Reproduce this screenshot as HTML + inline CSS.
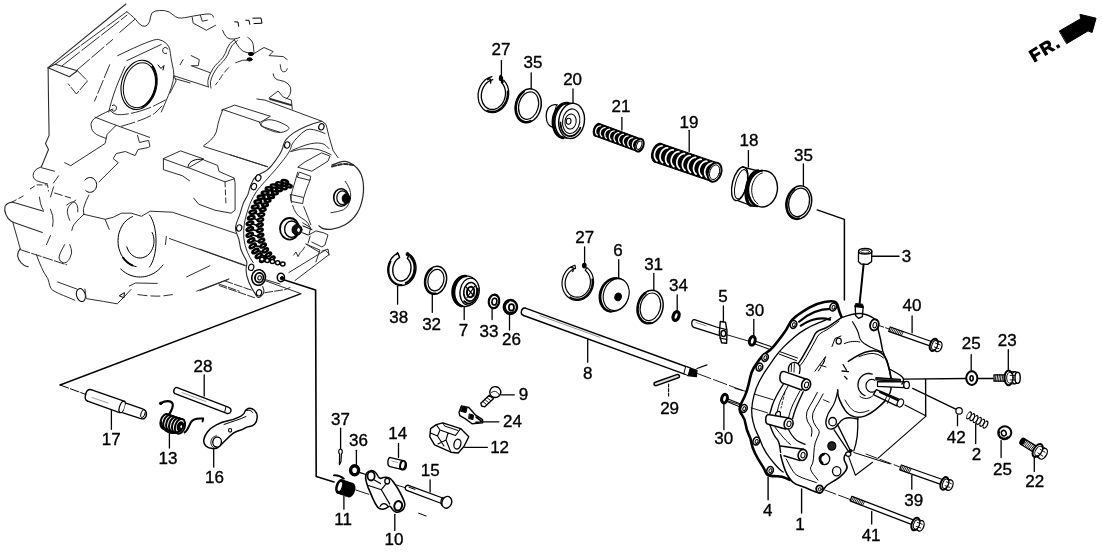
<!DOCTYPE html>
<html><head><meta charset="utf-8"><title>diagram</title>
<style>
html,body{margin:0;padding:0;background:#fff;}
body{width:1102px;height:554px;overflow:hidden;font-family:"Liberation Sans",sans-serif;}
svg{display:block;}
svg text{font-family:"Liberation Sans",sans-serif;fill:#000;stroke:#000;stroke-width:0.35px;} svg{filter:grayscale(1);}
</style></head><body>
<svg width="1102" height="554" viewBox="0 0 1102 554" fill="none" stroke-linecap="round" stroke-linejoin="round">
<rect x="0" y="0" width="1102" height="554" fill="#fff" stroke="none"/>
<text x="501" y="55.4" font-size="17" text-anchor="middle">27</text>
<text x="533" y="67.9" font-size="17" text-anchor="middle">35</text>
<text x="572.6" y="84.7" font-size="17" text-anchor="middle">20</text>
<text x="621" y="112.3" font-size="17" text-anchor="middle">21</text>
<text x="689" y="127.7" font-size="17" text-anchor="middle">19</text>
<text x="749" y="146.3" font-size="17" text-anchor="middle">18</text>
<text x="803.5" y="160.9" font-size="17" text-anchor="middle">35</text>
<text x="906.5" y="262.4" font-size="17" text-anchor="middle">3</text>
<text x="912" y="311.2" font-size="17" text-anchor="middle">40</text>
<text x="1007.2" y="346.4" font-size="17" text-anchor="middle">23</text>
<text x="971.2" y="349.4" font-size="17" text-anchor="middle">25</text>
<text x="584.7" y="243.0" font-size="17" text-anchor="middle">27</text>
<text x="618" y="256.0" font-size="17" text-anchor="middle">6</text>
<text x="653.6" y="269.7" font-size="17" text-anchor="middle">31</text>
<text x="678.5" y="291.3" font-size="17" text-anchor="middle">34</text>
<text x="723" y="301.6" font-size="17" text-anchor="middle">5</text>
<text x="754.8" y="316.0" font-size="17" text-anchor="middle">30</text>
<text x="398.8" y="322.5" font-size="17" text-anchor="middle">38</text>
<text x="431.6" y="330.1" font-size="17" text-anchor="middle">32</text>
<text x="463.4" y="336.1" font-size="17" text-anchor="middle">7</text>
<text x="489" y="336.7" font-size="17" text-anchor="middle">33</text>
<text x="511.4" y="344.7" font-size="17" text-anchor="middle">26</text>
<text x="587.7" y="379.4" font-size="17" text-anchor="middle">8</text>
<text x="669.6" y="413.9" font-size="17" text-anchor="middle">29</text>
<text x="723.7" y="444.4" font-size="17" text-anchor="middle">30</text>
<text x="203" y="371.5" font-size="17" text-anchor="middle">28</text>
<text x="111.2" y="444.7" font-size="17" text-anchor="middle">17</text>
<text x="168" y="464.0" font-size="17" text-anchor="middle">13</text>
<text x="214.5" y="483.0" font-size="17" text-anchor="middle">16</text>
<text x="340.4" y="424.7" font-size="17" text-anchor="middle">37</text>
<text x="358.5" y="446.3" font-size="17" text-anchor="middle">36</text>
<text x="397.8" y="439.4" font-size="17" text-anchor="middle">14</text>
<text x="430.3" y="475.6" font-size="17" text-anchor="middle">15</text>
<text x="523.6" y="399.9" font-size="17" text-anchor="middle">9</text>
<text x="512.4" y="426.7" font-size="17" text-anchor="middle">24</text>
<text x="499.6" y="453.0" font-size="17" text-anchor="middle">12</text>
<text x="343.2" y="524.5" font-size="17" text-anchor="middle">11</text>
<text x="394" y="545.4" font-size="17" text-anchor="middle">10</text>
<text x="767.7" y="516.4" font-size="17" text-anchor="middle">4</text>
<text x="800" y="529.5" font-size="17" text-anchor="middle">1</text>
<text x="871.1" y="540.6" font-size="17" text-anchor="middle">41</text>
<text x="913.8" y="505.5" font-size="17" text-anchor="middle">39</text>
<text x="956.2" y="442.9" font-size="17" text-anchor="middle">42</text>
<text x="976.6" y="459.6" font-size="17" text-anchor="middle">2</text>
<text x="1002.5" y="475.0" font-size="17" text-anchor="middle">25</text>
<text x="1034.7" y="487.3" font-size="17" text-anchor="middle">22</text>
<line x1="501.4" y1="60.6" x2="501.4" y2="76" stroke="#000" stroke-width="1.3"/>
<line x1="531.2" y1="72.8" x2="531.2" y2="89" stroke="#000" stroke-width="1.3"/>
<line x1="573" y1="89" x2="573" y2="103" stroke="#000" stroke-width="1.3"/>
<line x1="621.9" y1="117.4" x2="621.9" y2="130" stroke="#000" stroke-width="1.3"/>
<line x1="689.2" y1="130.3" x2="689.2" y2="151.5" stroke="#000" stroke-width="1.3"/>
<line x1="748.4" y1="150.6" x2="748.4" y2="167" stroke="#000" stroke-width="1.3"/>
<line x1="803.4" y1="164" x2="803.4" y2="185.5" stroke="#000" stroke-width="1.3"/>
<path d="M503.7 80.2 L506.0 83.1 L507.7 86.5 L508.6 90.4 L508.7 94.5 L508.0 98.6 L506.6 102.5 L504.6 105.9 L501.9 108.8 L498.8 111.0 L495.4 112.3 L492.0 112.7 L488.6 112.1 L485.4 110.7 L482.7 108.4 L480.5 105.4 L478.9 101.9 L478.2 98.0 L478.1 93.9 L478.9 89.8 L480.4 86.0 L482.6 82.6 L485.3 79.8 L488.5 77.8 L491.9 76.6" fill="none" stroke="#000" stroke-width="1.3" />
<path d="M501.4 82.3 L503.2 84.6 L504.6 87.4 L505.4 90.6 L505.5 94.0 L505.0 97.5 L503.9 100.7 L502.3 103.7 L500.1 106.1 L497.7 108.0 L495.0 109.1 L492.2 109.5 L489.4 109.1 L486.9 107.9 L484.8 106.0 L483.0 103.5 L481.9 100.5 L481.3 97.3 L481.4 93.8 L482.1 90.4 L483.4 87.3 L485.2 84.5 L487.4 82.2 L490.0 80.6 L492.8 79.7" fill="none" stroke="#000" stroke-width="1.3" />
<path d="M487.8 79.6 C489.6 77.6 491.4 79.4 490.6 83" fill="none" stroke="#000" stroke-width="1.5" />
<path d="M500.5 76.2 L502.5 82" fill="none" stroke="#000" stroke-width="2.6" />
<ellipse cx="501" cy="78.5" rx="1.6" ry="2.2" transform="rotate(0 501 78.5)" fill="#000" stroke="#000" stroke-width="1.2"/>
<path d="M507.7 91.5 L507.7 93.0 L507.7 94.5 L507.6 96.0 L507.3 97.5 L506.9 98.9 L506.5 100.3 L505.9 101.7 L505.2 103.1 L504.5 104.3 L503.6 105.5 L502.7 106.6 L501.7 107.6 L500.7 108.6 L499.6 109.4 L498.4 110.1 L497.2 110.6 L496.0 111.1 L494.8 111.4 L493.5 111.6 L492.3 111.7 L491.0 111.6 L489.8 111.4 L488.6 111.1 L487.4 110.7" fill="none" stroke="#000" stroke-width="2.0" />
<ellipse cx="528.2" cy="105.8" rx="12.8" ry="17.2" transform="rotate(14 528.2 105.8)" fill="none" stroke="#000" stroke-width="1.5"/>
<ellipse cx="528.6" cy="105.6" rx="9.8" ry="14.0" transform="rotate(14 528.6 105.6)" fill="none" stroke="#000" stroke-width="1.2"/>
<path d="M530.6 121.0 L529.1 121.6 L527.6 121.9 L526.0 122.0 L524.6 121.8 L523.2 121.4 L521.8 120.7 L520.6 119.8 L519.4 118.7 L518.4 117.4 L517.6 115.9 L516.9 114.3 L516.4 112.5 L516.1 110.7 L515.9 108.7 L515.9 106.8 L516.2 104.8 L516.6 102.8 L517.2 100.8 L517.9 99.0 L518.8 97.2 L519.9 95.6 L521.1 94.1 L522.4 92.8 L523.8 91.7" fill="none" stroke="#000" stroke-width="2.2" />
<path d="M557 104.8 C551 103.5 546.3 108 546.2 116 C546.2 123 549.5 127.5 555 127.5" fill="none" stroke="#000" stroke-width="1.3" />
<path d="M557 104.8 C554 109 553.5 121 555.5 127.5" fill="none" stroke="#000" stroke-width="1.0" />
<ellipse cx="567.5" cy="120.5" rx="12.5" ry="17.6" transform="rotate(8 567.5 120.5)" fill="#fff" stroke="#000" stroke-width="1.4"/>
<path d="M563.1 137.9 L561.5 137.6 L559.9 136.9 L558.5 135.9 L557.2 134.7 L556.0 133.3 L555.0 131.6 L554.2 129.7 L553.6 127.7 L553.1 125.6 L552.9 123.3 L552.9 121.1 L553.1 118.8 L553.5 116.5 L554.2 114.3 L555.0 112.2 L556.0 110.3 L557.2 108.5 L558.5 106.9 L559.9 105.6 L561.4 104.5 L563.0 103.7 L564.7 103.2 L566.3 103.0 L567.9 103.1" fill="none" stroke="#000" stroke-width="2.6" />
<ellipse cx="571.6" cy="120.9" rx="12.8" ry="17.7" transform="rotate(8 571.6 120.9)" fill="#fff" stroke="#000" stroke-width="1.4"/>
<ellipse cx="571.2" cy="121.2" rx="8.6" ry="12.4" transform="rotate(8 571.2 121.2)" fill="none" stroke="#000" stroke-width="1.1"/>
<ellipse cx="570.6" cy="121.5" rx="5.6" ry="7.6" transform="rotate(8 570.6 121.5)" fill="none" stroke="#000" stroke-width="1.0"/>
<ellipse cx="568.6" cy="121.2" rx="2.4" ry="3.0" transform="rotate(8 568.6 121.2)" fill="none" stroke="#000" stroke-width="1.1"/>
<path d="M580.3 127.7 L579.7 129.1 L578.9 130.4 L578.1 131.6 L577.1 132.7 L576.1 133.7 L575.1 134.5 L574.0 135.2 L572.8 135.7 L571.7 136.0 L570.5 136.1 L569.3 136.1 L568.2 135.9 L567.1 135.5 L566.1 134.9 L565.1 134.2 L564.1 133.3 L563.3 132.3 L562.6 131.2 L561.9 129.9 L561.4 128.5 L561.0 127.1 L560.7 125.5 L560.5 123.9 L560.5 122.3" fill="none" stroke="#000" stroke-width="1.8" />
<path d="M594.2 135.7 L636.9 151.4 L641.5 139.0 L598.8 123.3 Z" fill="#000" stroke="#000" stroke-width="1.0" />
<ellipse cx="597.4" cy="129.8" rx="3.7800000000000002" ry="6.6" transform="rotate(20.187541299549935 597.4 129.8)" fill="#000" stroke="#000" stroke-width="1.0"/>
<path d="M597.2 135.0 L596.5 134.3 L596.0 133.5 L595.7 132.5 L595.6 131.5 L595.7 130.4 L596.0 129.4 L596.4 128.4 L597.1 127.5 L597.8 126.8 L598.7 126.3 L599.6 126.0 L600.5 125.9" fill="none" stroke="#fff" stroke-width="1.25" />
<path d="M601.8 136.7 L601.1 136.0 L600.6 135.2 L600.3 134.2 L600.2 133.2 L600.3 132.1 L600.6 131.1 L601.0 130.1 L601.7 129.2 L602.4 128.5 L603.3 128.0 L604.2 127.7 L605.1 127.6" fill="none" stroke="#fff" stroke-width="1.25" />
<path d="M606.4 138.3 L605.7 137.6 L605.2 136.8 L604.9 135.8 L604.8 134.8 L604.9 133.7 L605.2 132.7 L605.6 131.7 L606.3 130.8 L607.0 130.1 L607.9 129.6 L608.8 129.3 L609.7 129.2" fill="none" stroke="#fff" stroke-width="1.25" />
<path d="M611.0 140.0 L610.3 139.3 L609.8 138.5 L609.5 137.5 L609.4 136.5 L609.5 135.4 L609.8 134.4 L610.2 133.4 L610.9 132.5 L611.6 131.8 L612.5 131.3 L613.4 131.0 L614.3 130.9" fill="none" stroke="#fff" stroke-width="1.25" />
<path d="M615.6 141.7 L614.9 141.0 L614.4 140.2 L614.1 139.2 L614.0 138.2 L614.1 137.1 L614.4 136.1 L614.8 135.1 L615.5 134.2 L616.2 133.5 L617.1 133.0 L618.0 132.7 L618.9 132.6" fill="none" stroke="#fff" stroke-width="1.25" />
<path d="M620.2 143.4 L619.5 142.7 L619.0 141.9 L618.7 140.9 L618.6 139.9 L618.7 138.8 L619.0 137.8 L619.4 136.8 L620.1 135.9 L620.8 135.2 L621.7 134.7 L622.6 134.4 L623.5 134.3" fill="none" stroke="#fff" stroke-width="1.25" />
<path d="M624.8 145.1 L624.1 144.4 L623.6 143.6 L623.3 142.6 L623.2 141.6 L623.3 140.5 L623.6 139.5 L624.0 138.5 L624.7 137.6 L625.4 136.9 L626.3 136.4 L627.2 136.1 L628.1 136.0" fill="none" stroke="#fff" stroke-width="1.25" />
<path d="M629.4 146.8 L628.7 146.1 L628.2 145.3 L627.9 144.3 L627.8 143.3 L627.9 142.2 L628.2 141.2 L628.6 140.2 L629.3 139.3 L630.0 138.6 L630.9 138.1 L631.8 137.8 L632.7 137.7" fill="none" stroke="#fff" stroke-width="1.25" />
<path d="M634.0 148.5 L633.3 147.8 L632.8 147.0 L632.5 146.0 L632.4 145.0 L632.5 143.9 L632.8 142.9 L633.2 141.9 L633.9 141.0 L634.6 140.3 L635.5 139.8 L636.4 139.5 L637.3 139.4" fill="none" stroke="#fff" stroke-width="1.25" />
<ellipse cx="639.2" cy="145.2" rx="4.2" ry="6.6" transform="rotate(20.187541299549935 639.2 145.2)" fill="#fff" stroke="#000" stroke-width="2.0"/>
<ellipse cx="639.2" cy="145.2" rx="2.4000000000000004" ry="4.3999999999999995" transform="rotate(20.187541299549935 639.2 145.2)" fill="#fff" stroke="#000" stroke-width="0.9"/>
<path d="M653.8 161.8 L711.4 181.5 L717.8 162.9 L660.2 143.2 Z" fill="#000" stroke="#000" stroke-width="1.0" />
<ellipse cx="657.9" cy="152.8" rx="5.9399999999999995" ry="9.8" transform="rotate(18.881400406693587 657.9 152.8)" fill="#000" stroke="#000" stroke-width="1.0"/>
<path d="M657.0 160.8 L656.0 159.8 L655.2 158.5 L654.6 156.9 L654.4 155.2 L654.5 153.5 L655.0 151.8 L655.7 150.1 L656.7 148.7 L657.9 147.5 L659.2 146.6 L660.7 146.0 L662.1 145.9" fill="none" stroke="#fff" stroke-width="1.7" />
<path d="M662.6 162.7 L661.6 161.7 L660.8 160.4 L660.2 158.8 L660.0 157.1 L660.1 155.4 L660.6 153.7 L661.3 152.0 L662.3 150.6 L663.5 149.4 L664.8 148.5 L666.3 147.9 L667.7 147.8" fill="none" stroke="#fff" stroke-width="1.7" />
<path d="M668.2 164.7 L667.2 163.7 L666.4 162.4 L665.8 160.8 L665.6 159.1 L665.7 157.4 L666.2 155.7 L666.9 154.0 L667.9 152.6 L669.1 151.4 L670.4 150.5 L671.9 149.9 L673.3 149.8" fill="none" stroke="#fff" stroke-width="1.7" />
<path d="M673.8 166.6 L672.8 165.6 L672.0 164.3 L671.4 162.7 L671.2 161.0 L671.3 159.3 L671.8 157.6 L672.5 155.9 L673.5 154.5 L674.7 153.3 L676.0 152.4 L677.5 151.8 L678.9 151.7" fill="none" stroke="#fff" stroke-width="1.7" />
<path d="M679.4 168.5 L678.4 167.5 L677.6 166.2 L677.0 164.6 L676.8 162.9 L676.9 161.2 L677.4 159.5 L678.1 157.8 L679.1 156.4 L680.3 155.2 L681.6 154.3 L683.1 153.7 L684.5 153.6" fill="none" stroke="#fff" stroke-width="1.7" />
<path d="M685.0 170.4 L684.0 169.4 L683.2 168.1 L682.6 166.5 L682.4 164.8 L682.5 163.1 L683.0 161.4 L683.7 159.7 L684.7 158.3 L685.9 157.1 L687.2 156.2 L688.7 155.6 L690.1 155.5" fill="none" stroke="#fff" stroke-width="1.7" />
<path d="M690.5 172.3 L689.5 171.3 L688.7 170.0 L688.1 168.4 L687.9 166.7 L688.0 165.0 L688.5 163.3 L689.2 161.6 L690.2 160.2 L691.4 159.0 L692.7 158.1 L694.2 157.5 L695.6 157.4" fill="none" stroke="#fff" stroke-width="1.7" />
<path d="M696.1 174.2 L695.1 173.2 L694.3 171.9 L693.7 170.3 L693.5 168.6 L693.6 166.9 L694.1 165.2 L694.8 163.5 L695.8 162.1 L697.0 160.9 L698.3 160.0 L699.8 159.4 L701.2 159.3" fill="none" stroke="#fff" stroke-width="1.7" />
<path d="M701.7 176.1 L700.7 175.1 L699.9 173.8 L699.3 172.2 L699.1 170.5 L699.2 168.8 L699.7 167.1 L700.4 165.4 L701.4 164.0 L702.6 162.8 L703.9 161.9 L705.4 161.3 L706.8 161.2" fill="none" stroke="#fff" stroke-width="1.7" />
<path d="M707.3 178.0 L706.3 177.0 L705.5 175.7 L704.9 174.1 L704.7 172.4 L704.8 170.7 L705.3 169.0 L706.0 167.3 L707.0 165.9 L708.2 164.7 L709.5 163.8 L711.0 163.2 L712.4 163.1" fill="none" stroke="#fff" stroke-width="1.7" />
<ellipse cx="714.6" cy="172.2" rx="6.6" ry="9.8" transform="rotate(18.881400406693587 714.6 172.2)" fill="#fff" stroke="#000" stroke-width="2.0"/>
<ellipse cx="714.6" cy="172.2" rx="4.8" ry="7.6000000000000005" transform="rotate(18.881400406693587 714.6 172.2)" fill="#fff" stroke="#000" stroke-width="0.9"/>
<ellipse cx="739.8" cy="183.8" rx="7.4" ry="17.2" transform="rotate(14 739.8 183.8)" fill="#fff" stroke="#000" stroke-width="1.4"/>
<ellipse cx="741.0" cy="184.2" rx="5.6" ry="15.0" transform="rotate(14 741.0 184.2)" fill="none" stroke="#000" stroke-width="1.0"/>
<path d="M742.5 167 L757 170.6 M738.5 200.8 L752 206" fill="none" stroke="#000" stroke-width="1.3" />
<ellipse cx="756.5" cy="188.4" rx="9.0" ry="18.0" transform="rotate(12 756.5 188.4)" fill="#fff" stroke="#000" stroke-width="1.6"/>
<path d="M750.7 205.6 L749.7 205.0 L748.8 204.2 L747.9 203.2 L747.2 201.9 L746.6 200.4 L746.2 198.7 L745.9 196.9 L745.7 194.9 L745.6 192.8 L745.7 190.7 L746.0 188.5 L746.4 186.3 L746.9 184.2 L747.6 182.1 L748.4 180.1 L749.2 178.2 L750.2 176.5 L751.2 174.9 L752.3 173.6 L753.5 172.5 L754.7 171.6 L755.8 171.0 L757.0 170.6 L758.2 170.5" fill="none" stroke="#000" stroke-width="2.4" />
<ellipse cx="763" cy="188.8" rx="14.4" ry="18.2" transform="rotate(8 763 188.8)" fill="#fff" stroke="#000" stroke-width="1.4"/>
<path d="M757.0 206.2 L755.5 205.5 L754.0 204.6 L752.7 203.4 L751.5 202.1 L750.4 200.5 L749.4 198.8 L748.7 197.0 L748.1 195.1 L747.7 193.1 L747.5 191.0 L747.5 188.9 L747.7 186.8 L748.1 184.7 L748.7 182.7 L749.5 180.8 L750.4 178.9 L751.5 177.2 L752.7 175.7 L754.1 174.3 L755.5 173.1 L757.1 172.2 L758.7 171.5 L760.3 171.0 L762.0 170.7" fill="none" stroke="#000" stroke-width="2.2" />
<path d="M758.0 203.8 L756.9 203.0 L755.9 202.1 L755.0 201.0 L754.2 199.8 L753.4 198.4 L752.9 197.0 L752.4 195.5 L752.0 193.9 L751.8 192.3 L751.7 190.6 L751.8 188.9 L751.9 187.2 L752.2 185.6 L752.6 184.0 L753.2 182.4 L753.9 180.9 L754.6 179.5 L755.5 178.1 L756.5 176.9 L757.5 175.8 L758.6 174.9 L759.8 174.1 L761.0 173.4 L762.3 173.0" fill="none" stroke="#000" stroke-width="1.0" />
<ellipse cx="798.8" cy="202.6" rx="12.6" ry="17.0" transform="rotate(14 798.8 202.6)" fill="none" stroke="#000" stroke-width="1.5"/>
<ellipse cx="799.1" cy="202.4" rx="10.2" ry="14.4" transform="rotate(14 799.1 202.4)" fill="none" stroke="#000" stroke-width="1.2"/>
<path d="M799.0 218.3 L797.6 218.6 L796.2 218.5 L794.9 218.3 L793.6 217.9 L792.3 217.2 L791.2 216.4 L790.2 215.4 L789.2 214.2 L788.4 212.8 L787.8 211.3 L787.3 209.7 L786.9 208.0 L786.7 206.2 L786.7 204.4 L786.8 202.5 L787.1 200.7 L787.6 198.8 L788.2 197.1 L789.0 195.4 L789.8 193.8 L790.8 192.3 L792.0 190.9 L793.2 189.7 L794.4 188.7" fill="none" stroke="#000" stroke-width="2.0" />
<path d="M817.2 209.9 L844.4 219.4 L844.4 300" fill="none" stroke="#000" stroke-width="1.5" />
<line x1="397.6" y1="286.3" x2="397.6" y2="304.2" stroke="#000" stroke-width="1.3"/>
<line x1="432.3" y1="294.4" x2="432.3" y2="312.3" stroke="#000" stroke-width="1.3"/>
<line x1="464.2" y1="307" x2="464.2" y2="319.6" stroke="#000" stroke-width="1.3"/>
<line x1="492.1" y1="308.3" x2="492.1" y2="319.6" stroke="#000" stroke-width="1.3"/>
<line x1="509.5" y1="314" x2="509.5" y2="330" stroke="#000" stroke-width="1.3"/>
<line x1="584.6" y1="247" x2="584.6" y2="264" stroke="#000" stroke-width="1.3"/>
<line x1="618.7" y1="259.7" x2="618.7" y2="277.8" stroke="#000" stroke-width="1.3"/>
<line x1="653.8" y1="273.5" x2="653.8" y2="290" stroke="#000" stroke-width="1.3"/>
<line x1="677.2" y1="294.8" x2="677.2" y2="310.2" stroke="#000" stroke-width="1.3"/>
<line x1="723.4" y1="306" x2="723.4" y2="321.4" stroke="#000" stroke-width="1.3"/>
<line x1="753.8" y1="319.5" x2="753.8" y2="336.4" stroke="#000" stroke-width="1.3"/>
<line x1="587.7" y1="339.5" x2="587.7" y2="362.2" stroke="#000" stroke-width="1.3"/>
<line x1="723.9" y1="404" x2="723.9" y2="429.7" stroke="#000" stroke-width="1.3"/>
<path d="M409.8 254.6 L411.3 255.8 L412.6 257.3 L413.7 259.0 L414.7 260.9 L415.3 263.0 L415.8 265.1 L416.0 267.4 L415.9 269.6 L415.6 271.8 L415.0 274.0 L414.2 276.1 L413.2 278.1 L411.9 279.8 L410.5 281.4 L408.9 282.8 L407.2 283.9 L405.4 284.7 L403.5 285.3 L401.6 285.5 L399.7 285.5 L397.9 285.1 L396.1 284.4 L394.4 283.5 L392.9 282.3 L391.5 280.8 L390.3 279.2 L389.3 277.3 L388.6 275.3 L388.1 273.2 L387.8 271.0 L387.8 268.7 L388.1 266.5 L388.6 264.3 L389.4 262.2 L390.4 260.2 L391.6 258.3 L393.0 256.7 L394.5 255.3 L396.2 254.1 L398.0 253.2 L399.6 257.6 L398.4 258.2 L397.3 259.1 L396.3 260.2 L395.4 261.4 L394.6 262.7 L393.9 264.2 L393.4 265.7 L393.0 267.3 L392.8 269.0 L392.8 270.6 L392.9 272.2 L393.2 273.7 L393.7 275.2 L394.3 276.5 L395.0 277.7 L395.9 278.8 L396.8 279.6 L397.9 280.3 L399.1 280.7 L400.2 281.0 L401.5 281.0 L402.7 280.8 L403.9 280.4 L405.1 279.7 L406.2 278.9 L407.3 277.9 L408.2 276.7 L409.0 275.4 L409.7 274.0 L410.3 272.4 L410.7 270.8 L410.9 269.2 L411.0 267.6 L410.9 266.0 L410.7 264.4 L410.3 262.9 L409.7 261.6 L409.0 260.3 L408.1 259.2 L407.2 258.3 Z" fill="#fff" stroke="#000" stroke-width="1.4" />
<path d="M410.4 256.9 L411.2 257.8 L411.9 258.8 L412.6 259.8 L413.1 260.9 L413.6 262.0 L414.0 263.3 L414.3 264.5 L414.5 265.8 L414.6 267.1 L414.6 268.4 L414.5 269.8 L414.3 271.1 L414.0 272.4 L413.7 273.7 L413.2 274.9 L412.7 276.1 L412.0 277.3 L411.3 278.3 L410.5 279.3 L409.7 280.3 L408.8 281.1 L407.8 281.8 L406.8 282.5 L405.8 283.0" fill="none" stroke="#000" stroke-width="2.2" />
<path d="M401.4 284.8 L400.3 284.8 L399.1 284.7 L398.0 284.4 L396.9 284.0 L395.9 283.5 L394.8 282.9 L393.9 282.2 L393.0 281.4 L392.2 280.5 L391.4 279.5 L390.7 278.4 L390.2 277.3 L389.7 276.1 L389.3 274.8 L388.9 273.5 L388.7 272.1 L388.6 270.8 L388.6 269.4 L388.7 268.0 L388.9 266.6 L389.2 265.2 L389.6 263.9 L390.1 262.6 L390.6 261.4" fill="none" stroke="#000" stroke-width="1.8" />
<ellipse cx="407.6" cy="254.2" rx="1.5" ry="1.8" transform="rotate(0 407.6 254.2)" fill="#000" stroke="#000" stroke-width="1"/>
<path d="M396.5 254.5 L397.5 252.5 L398.8 255.5" fill="none" stroke="#000" stroke-width="1.2" />
<ellipse cx="435.6" cy="280.3" rx="10.8" ry="14.2" transform="rotate(14 435.6 280.3)" fill="none" stroke="#000" stroke-width="1.5"/>
<ellipse cx="435.9" cy="280.1" rx="7.9" ry="10.9" transform="rotate(14 435.9 280.1)" fill="none" stroke="#000" stroke-width="1.2"/>
<path d="M435.9 293.3 L434.7 293.5 L433.5 293.5 L432.4 293.3 L431.3 292.9 L430.2 292.4 L429.2 291.7 L428.3 290.8 L427.6 289.8 L426.9 288.7 L426.3 287.5 L425.9 286.1 L425.6 284.7 L425.4 283.2 L425.4 281.7 L425.5 280.2 L425.7 278.6 L426.1 277.1 L426.6 275.7 L427.2 274.3 L428.0 272.9 L428.8 271.7 L429.8 270.6 L430.8 269.6 L431.8 268.8" fill="none" stroke="#000" stroke-width="1.8" />
<ellipse cx="463.6" cy="291.0" rx="11.5" ry="15.2" transform="rotate(8 463.6 291.0)" fill="#000" stroke="#000" stroke-width="1.6"/>
<ellipse cx="466.3" cy="291.3" rx="11.5" ry="15.3" transform="rotate(8 466.3 291.3)" fill="#fff" stroke="#000" stroke-width="1.3"/>
<path d="M461.7 306.2 L460.3 305.7 L459.0 305.0 L457.9 304.1 L456.8 303.0 L455.8 301.7 L455.0 300.3 L454.3 298.7 L453.8 297.0 L453.4 295.2 L453.2 293.4 L453.2 291.5 L453.4 289.6 L453.8 287.7 L454.3 285.9 L455.0 284.2 L455.8 282.6 L456.8 281.1 L457.8 279.8 L459.0 278.6 L460.3 277.7 L461.7 276.9 L463.1 276.4 L464.5 276.0 L465.9 276.0" fill="none" stroke="#000" stroke-width="2.4" />
<ellipse cx="469.6" cy="291.6" rx="9.6" ry="13.6" transform="rotate(8 469.6 291.6)" fill="#fff" stroke="#000" stroke-width="1.3"/>
<ellipse cx="470.4" cy="291.8" rx="6.6" ry="9.4" transform="rotate(8 470.4 291.8)" fill="none" stroke="#000" stroke-width="1.6"/>
<ellipse cx="470.6" cy="292.0" rx="3.6" ry="5.2" transform="rotate(8 470.6 292.0)" fill="none" stroke="#000" stroke-width="2.0"/>
<path d="M466 287 L474 296 M474.5 286.5 L467 297.5" fill="none" stroke="#000" stroke-width="1.2" />
<path d="M477.8 288.7 L477.9 289.8 L477.9 291.0 L477.8 292.2 L477.6 293.4 L477.4 294.6 L477.0 295.7 L476.6 296.8 L476.1 297.9 L475.6 298.8 L475.0 299.7 L474.3 300.6 L473.6 301.3 L472.8 301.9 L472.0 302.4 L471.2 302.8 L470.4 303.1 L469.5 303.3 L468.7 303.3 L467.8 303.3 L467.0 303.1 L466.2 302.8 L465.5 302.3 L464.8 301.8 L464.1 301.1" fill="none" stroke="#000" stroke-width="1.8" />
<ellipse cx="494" cy="301.4" rx="5.2" ry="6.9" transform="rotate(10 494 301.4)" fill="#fff" stroke="#000" stroke-width="2.2"/>
<ellipse cx="494.4" cy="301.6" rx="2.4" ry="3.4" transform="rotate(10 494.4 301.6)" fill="none" stroke="#000" stroke-width="1.6"/>
<path d="M490.5 297 L493 294.6 L497.5 296.2" fill="none" stroke="#000" stroke-width="1.2" />
<ellipse cx="510.4" cy="307" rx="6.6" ry="7.0" transform="rotate(0 510.4 307)" fill="#fff" stroke="#000" stroke-width="2.4"/>
<ellipse cx="511.4" cy="307.4" rx="2.6" ry="3.2" transform="rotate(0 511.4 307.4)" fill="none" stroke="#000" stroke-width="1.8"/>
<path d="M513.0 311.8 L512.4 312.2 L511.7 312.4 L511.0 312.6 L510.2 312.6 L509.5 312.5 L508.8 312.3 L508.2 312.1 L507.5 311.7 L507.0 311.2 L506.5 310.7 L506.0 310.0 L505.7 309.4 L505.4 308.6 L505.3 307.9 L505.2 307.1 L505.2 306.3 L505.4 305.6 L505.6 304.9 L505.9 304.2 L506.3 303.5 L506.8 303.0 L507.4 302.5 L508.0 302.1 L508.6 301.7" fill="none" stroke="#000" stroke-width="1.6" />
<path d="M525.4 308.1 L690 368.0 M523.6 315.5 L684.6 374.2" fill="none" stroke="#000" stroke-width="1.4" />
<path d="M525.4 308.1 C521 307.4 519.8 314.4 523.6 315.5" fill="none" stroke="#000" stroke-width="1.4" />
<path d="M540 315.6 L600 337.4" fill="none" stroke="#777" stroke-width="0.8" />
<path d="M689.4 367.8 L697 370.4 L696.4 376.6 L687.6 375.6 Z" fill="#000" stroke="#000" stroke-width="1.2" />
<path d="M686 366.6 L690.2 368 L688.2 375.6 L684.2 374 Z" fill="#fff" stroke="#000" stroke-width="1.0" />
<line x1="697" y1="368.5" x2="707" y2="364.9" stroke="#000" stroke-width="1.2"/>
<line x1="697.6" y1="373.6" x2="744" y2="391" stroke="#000" stroke-width="0.9" stroke-dasharray="14 3"/>
<path d="M655.3 382.2 L677.4 374.4 C679.8 374.2 680.2 377.4 678.4 377.8 L656.3 385.6 C653.6 386 653.2 382.8 655.3 382.2 Z" fill="#ddd" stroke="#000" stroke-width="1.5" />
<line x1="668.6" y1="384" x2="668.6" y2="396" stroke="#000" stroke-width="1.1" stroke-dasharray="3 1.5"/>
<path d="M586.9 267.6 L588.6 269.1 L590.1 270.8 L591.3 272.7 L592.3 274.8 L593.0 277.1 L593.4 279.5 L593.6 281.9 L593.4 284.3 L593.0 286.7 L592.2 289.1 L591.2 291.3 L590.0 293.3 L588.5 295.2 L586.8 296.8 L584.9 298.1 L582.9 299.2 L580.9 299.9 L578.7 300.3 L576.6 300.4 L574.4 300.2 L572.3 299.6 L570.4 298.7 L568.5 297.5 L566.9 296.0 L565.4 294.3 L564.2 292.3 L563.2 290.2 L562.6 287.9 L562.1 285.6 L562.0 283.1 L562.2 280.7 L562.7 278.3 L563.4 276.0 L564.5 273.8 L565.7 271.7 L567.2 269.9 L568.9 268.3 L570.8 267.0 L572.8 266.0 L574.9 265.2 L575.5 268.4 L573.8 269.0 L572.2 269.8 L570.7 270.9 L569.4 272.2 L568.1 273.7 L567.1 275.4 L566.3 277.2 L565.7 279.1 L565.3 281.1 L565.1 283.1 L565.2 285.1 L565.5 287.0 L566.1 288.9 L566.9 290.6 L567.8 292.2 L569.0 293.7 L570.3 294.9 L571.8 295.8 L573.4 296.6 L575.0 297.0 L576.7 297.2 L578.5 297.2 L580.2 296.8 L581.9 296.2 L583.5 295.3 L585.0 294.2 L586.3 292.9 L587.5 291.4 L588.5 289.7 L589.4 287.9 L590.0 286.0 L590.3 284.0 L590.5 282.0 L590.4 280.0 L590.0 278.0 L589.5 276.2 L588.7 274.4 L587.7 272.9 L586.5 271.5 L585.2 270.3 Z" fill="#fff" stroke="#000" stroke-width="1.2" />
<path d="M592.3 279.3 L592.4 280.9 L592.5 282.5 L592.3 284.0 L592.1 285.6 L591.7 287.2 L591.2 288.7 L590.6 290.1 L589.8 291.5 L589.0 292.8 L588.1 294.0 L587.0 295.1 L585.9 296.1 L584.7 297.0 L583.5 297.7 L582.2 298.3 L580.8 298.8 L579.4 299.1 L578.1 299.3 L576.7 299.3 L575.3 299.2 L573.9 298.9 L572.6 298.5 L571.4 298.0 L570.1 297.3" fill="none" stroke="#000" stroke-width="1.8" />
<ellipse cx="584.3" cy="265.6" rx="1.8" ry="2.2" transform="rotate(0 584.3 265.6)" fill="#000" stroke="#000" stroke-width="1.2"/>
<path d="M571.2 267.6 C572.8 266 574 268.5 572.8 271.5" fill="none" stroke="#000" stroke-width="1.4" />
<ellipse cx="614.6" cy="294.8" rx="13.6" ry="17.0" transform="rotate(18 614.6 294.8)" fill="#fff" stroke="#000" stroke-width="1.6"/>
<path d="M610.7 311.7 L608.9 311.3 L607.2 310.7 L605.7 309.9 L604.2 308.8 L603.0 307.4 L601.9 305.8 L601.0 304.1 L600.3 302.2 L599.9 300.1 L599.7 298.0 L599.7 295.9 L599.9 293.7 L600.4 291.5 L601.2 289.4 L602.1 287.4 L603.2 285.5 L604.6 283.8 L606.0 282.3 L607.6 281.0 L609.3 279.9 L611.1 279.1 L612.9 278.6 L614.7 278.3 L616.5 278.3" fill="none" stroke="#000" stroke-width="2.2" />
<ellipse cx="616.2" cy="294.6" rx="12.6" ry="16.2" transform="rotate(18 616.2 294.6)" fill="#fff" stroke="#000" stroke-width="1.1"/>
<ellipse cx="618.1" cy="296.9" rx="3.3" ry="3.9" transform="rotate(18 618.1 296.9)" fill="#000" stroke="#000" stroke-width="1"/>
<ellipse cx="650.1" cy="307" rx="12.8" ry="17.0" transform="rotate(14 650.1 307)" fill="none" stroke="#000" stroke-width="1.5"/>
<ellipse cx="650.4" cy="306.8" rx="10.0" ry="14.0" transform="rotate(14 650.4 306.8)" fill="none" stroke="#000" stroke-width="1.2"/>
<path d="M650.4 322.8 L649.0 323.0 L647.6 322.9 L646.2 322.7 L644.9 322.3 L643.6 321.6 L642.4 320.8 L641.4 319.7 L640.4 318.5 L639.6 317.2 L638.9 315.7 L638.4 314.1 L638.1 312.3 L637.9 310.6 L637.8 308.7 L638.0 306.9 L638.2 305.0 L638.7 303.2 L639.3 301.4 L640.1 299.7 L641.0 298.1 L642.0 296.6 L643.1 295.3 L644.3 294.1 L645.6 293.1" fill="none" stroke="#000" stroke-width="2.0" />
<ellipse cx="676.1" cy="316" rx="2.8" ry="4.6" transform="rotate(20 676.1 316)" fill="#fff" stroke="#000" stroke-width="3.2"/>
<path d="M694.5 319.6 L719.4 328 M694.6 327.6 L719.2 335.4" fill="none" stroke="#000" stroke-width="1.3" />
<path d="M694.5 319.6 C690.8 319.4 690.8 327 694.6 327.6" fill="none" stroke="#000" stroke-width="1.3" />
<path d="M696 322.5 L706 325.8" fill="none" stroke="#777" stroke-width="0.8" />
<path d="M720.3 321.5 L725.5 322.2 L727 331 L726.6 343.2 L721.6 342.8 L719.3 333.5 Z" fill="#fff" stroke="#000" stroke-width="1.4" />
<ellipse cx="723.4" cy="333.4" rx="2.4" ry="3.0" transform="rotate(0 723.4 333.4)" fill="#fff" stroke="#000" stroke-width="1.5"/>
<path d="M720 328 L726.6 329.6 M719.6 338 L726.6 339.4" fill="none" stroke="#000" stroke-width="1.2" />
<line x1="727" y1="334.8" x2="749" y2="341.2" stroke="#000" stroke-width="0.9"/>
<ellipse cx="752.3" cy="340.8" rx="2.8" ry="4.4" transform="rotate(15 752.3 340.8)" fill="#fff" stroke="#000" stroke-width="3.0"/>
<path d="M755.5 341.2 L771 346.6 M755 344 L770 349.4" fill="none" stroke="#000" stroke-width="1.1" />
<ellipse cx="724.5" cy="398.6" rx="2.8" ry="4.4" transform="rotate(15 724.5 398.6)" fill="#fff" stroke="#000" stroke-width="3.0"/>
<path d="M728 399 L740 403.8 M727.6 401.8 L739 406.4" fill="none" stroke="#000" stroke-width="1.1" />
<path d="M60.1 385 L300.4 293.8" fill="none" stroke="#000" stroke-width="1.4" />
<line x1="60.1" y1="385" x2="86" y2="394.5" stroke="#000" stroke-width="1.0" stroke-dasharray="9 2"/>
<path d="M283 279.5 L315.6 290 L316.2 476.5 L334 482" fill="none" stroke="#000" stroke-width="1.6" />
<line x1="111.4" y1="410.6" x2="111.4" y2="429.3" stroke="#000" stroke-width="1.3"/>
<line x1="169.4" y1="432" x2="169.4" y2="448" stroke="#000" stroke-width="1.3"/>
<line x1="213.7" y1="449.7" x2="213.7" y2="467" stroke="#000" stroke-width="1.3"/>
<line x1="204.2" y1="375" x2="204.2" y2="396" stroke="#000" stroke-width="1.3"/>
<line x1="340.6" y1="428.2" x2="340.6" y2="448.8" stroke="#000" stroke-width="1.3"/>
<line x1="356.4" y1="450.3" x2="356.4" y2="465" stroke="#000" stroke-width="1.3"/>
<line x1="398.5" y1="443.4" x2="398.5" y2="457.4" stroke="#000" stroke-width="1.3"/>
<line x1="430.1" y1="479.8" x2="430.1" y2="492.1" stroke="#000" stroke-width="1.3"/>
<line x1="343.9" y1="496.5" x2="343.9" y2="509.2" stroke="#000" stroke-width="1.3"/>
<line x1="394.8" y1="514.3" x2="394.8" y2="530.4" stroke="#000" stroke-width="1.3"/>
<path d="M91 389.6 L124.8 401.4 M87.6 401.2 L119.6 412.6" fill="none" stroke="#000" stroke-width="1.4" />
<path d="M91 389.6 C85.5 388.6 83.2 399.5 87.6 401.2" fill="none" stroke="#000" stroke-width="1.4" />
<ellipse cx="122.2" cy="407" rx="2.6" ry="5.9" transform="rotate(19 122.2 407)" fill="#fff" stroke="#000" stroke-width="1.2"/>
<path d="M126 403.2 L142.6 408.8 C148.5 410.5 147.2 419.8 141.6 418.8 L123 412.9" fill="#fff" stroke="#000" stroke-width="1.4" />
<ellipse cx="143" cy="413.6" rx="2.0" ry="4.2" transform="rotate(19 143 413.6)" fill="none" stroke="#000" stroke-width="0.9"/>
<path d="M92 397.5 L108 403" fill="none" stroke="#888" stroke-width="0.8" />
<path d="M160.6 403.2 C165 400.6 171 400.2 172.6 403.6 C174 407 170.5 412 168 416.5" fill="none" stroke="#000" stroke-width="2.2" />
<ellipse cx="160.8" cy="403.4" rx="1.4" ry="1.2" transform="rotate(0 160.8 403.4)" fill="#000" stroke="#000" stroke-width="1"/>
<ellipse cx="165.5" cy="421.5" rx="4.8" ry="7.6" transform="rotate(18 165.5 421.5)" fill="#fff" stroke="#000" stroke-width="2.0"/>
<ellipse cx="168.4" cy="422.5" rx="4.8" ry="7.6" transform="rotate(18 168.4 422.5)" fill="#fff" stroke="#000" stroke-width="2.0"/>
<ellipse cx="171.3" cy="423.4" rx="4.8" ry="7.6" transform="rotate(18 171.3 423.4)" fill="#fff" stroke="#000" stroke-width="2.0"/>
<ellipse cx="174.2" cy="424.4" rx="4.8" ry="7.6" transform="rotate(18 174.2 424.4)" fill="#fff" stroke="#000" stroke-width="2.0"/>
<ellipse cx="177.1" cy="425.3" rx="4.8" ry="7.6" transform="rotate(18 177.1 425.3)" fill="#fff" stroke="#000" stroke-width="2.0"/>
<ellipse cx="180.0" cy="426.3" rx="4.8" ry="7.6" transform="rotate(18 180.0 426.3)" fill="#fff" stroke="#000" stroke-width="2.0"/>
<ellipse cx="180.4" cy="426.4" rx="3.0" ry="4.6" transform="rotate(18 180.4 426.4)" fill="#000" stroke="#000" stroke-width="1.2"/>
<ellipse cx="181.2" cy="426.6" rx="1.4" ry="1.8" transform="rotate(18 181.2 426.6)" fill="#fff" stroke="#000" stroke-width="1"/>
<path d="M184.6 432.4 C188 430.5 189.5 424 191.2 421.9 C193 419 196 417.8 203.2 418.6 L202.6 421.4" fill="none" stroke="#000" stroke-width="2.0" />
<path d="M180.9 430.0 L180.2 430.7 L179.4 431.3 L178.5 431.8 L177.5 432.2 L176.5 432.5 L175.4 432.7 L174.2 432.8 L173.1 432.8 L171.9 432.8 L170.7 432.6 L169.6 432.3 L168.4 431.9 L167.4 431.4 L166.3 430.8 L165.4 430.1 L164.5 429.4 L163.7 428.6 L163.0 427.7 L162.4 426.8 L161.9 425.9 L161.5 425.0 L161.3 424.0 L161.2 423.0 L161.2 422.1" fill="none" stroke="#000" stroke-width="2.2" />
<path d="M177.2 387.6 L228.2 407.2 C232.8 409 231.4 414.6 226.2 413.2 L175 393.6 C172.6 392.4 174 386.6 177.2 387.6 Z" fill="#fff" stroke="#000" stroke-width="1.4" />
<path d="M226 406.4 L224.6 412.4" fill="none" stroke="#000" stroke-width="1.0" />
<path d="M182 392.6 L206 401.6" fill="none" stroke="#888" stroke-width="0.8" />
<path d="M203.8 439.9 Q204.2 436.3 207.4 432.0 Q210.6 427.7 216.4 424.8 Q222.2 421.9 228.0 420.8 Q233.8 419.7 238.9 417.2 Q243.9 414.7 244.6 412.1 Q245.3 409.6 248.2 408.5 Q251.1 407.4 254.4 410.3 Q257.6 413.2 257.2 417.5 Q256.9 421.9 254.7 424.0 Q252.5 426.2 249.5 426.5 Q246.5 426.8 244.4 428.3 Q242.4 429.8 239.4 430.4 Q236.5 431.0 233.7 432.9 Q230.9 434.9 226.6 439.2 Q222.2 443.5 219.3 446.4 Q216.4 449.3 212.1 448.6 Q207.8 447.9 205.6 445.7 Q203.4 443.5 203.8 439.9 Z" fill="#fff" stroke="#000" stroke-width="1.5" />
<ellipse cx="217.1" cy="442.1" rx="4.3" ry="5.0" transform="rotate(10 217.1 442.1)" fill="#fff" stroke="#000" stroke-width="1.4"/>
<path d="M214.3 448.0 L213.7 447.7 L213.2 447.3 L212.7 446.9 L212.3 446.4 L211.9 445.9 L211.5 445.3 L211.3 444.7 L211.1 444.0 L210.9 443.3 L210.9 442.6 L210.9 441.9 L211.0 441.2 L211.1 440.5 L211.4 439.8 L211.7 439.1 L212.0 438.5 L212.4 438.0 L212.9 437.5 L213.4 437.0 L214.0 436.6 L214.6 436.3 L215.2 436.1 L215.8 436.0 L216.4 435.9" fill="none" stroke="#000" stroke-width="1.0" />
<ellipse cx="230.1" cy="430.3" rx="1.6" ry="1.8" transform="rotate(0 230.1 430.3)" fill="none" stroke="#000" stroke-width="1.1"/>
<path d="M224 424.5 C232 421.5 240 419.5 246 416.5" fill="none" stroke="#000" stroke-width="1.0" />
<path d="M246.5 410.5 C249 409.5 251.5 410.5 252.6 412.4" fill="none" stroke="#000" stroke-width="1.0" />
<path d="M340.2 449 C338.4 449.5 338.2 453 339.6 454 L339.4 464.6 L341 461.5 L341.4 454 C343 452.6 342.4 449 340.2 449 Z" fill="#fff" stroke="#000" stroke-width="1.2" />
<ellipse cx="354.6" cy="470.3" rx="4.0" ry="4.5" transform="rotate(0 354.6 470.3)" fill="#fff" stroke="#000" stroke-width="3.4"/>
<line x1="360.1" y1="472.6" x2="366.6" y2="474.8" stroke="#000" stroke-width="1.2"/>
<path d="M390.6 457.6 L403 460.6 C407.6 461.6 407.6 470.4 402.4 469.6 L390 466.6 C386.8 465.6 387.4 457 390.6 457.6 Z" fill="#fff" stroke="#000" stroke-width="1.4" />
<ellipse cx="402.8" cy="465.2" rx="2.6" ry="4.4" transform="rotate(12 402.8 465.2)" fill="#fff" stroke="#000" stroke-width="2.0"/>
<path d="M392 461 L398 462.6" fill="none" stroke="#888" stroke-width="0.8" />
<path d="M408.4 485.3 L444 498.5 M406.7 490.3 L441.5 503.5" fill="none" stroke="#000" stroke-width="1.3" />
<path d="M408.4 485.3 C405 484.8 404.2 489.4 406.7 490.3" fill="none" stroke="#000" stroke-width="1.3" />
<path d="M409 487.2 L415 489.4" fill="none" stroke="#000" stroke-width="1.0" />
<ellipse cx="446.8" cy="502.3" rx="4.8" ry="6.0" transform="rotate(20 446.8 502.3)" fill="#fff" stroke="#000" stroke-width="1.4"/>
<path d="M442.8 497.4 C441 498.6 440.2 503 441.6 505.2" fill="none" stroke="#000" stroke-width="1.2" />
<line x1="355.8" y1="490" x2="368.8" y2="494.3" stroke="#000" stroke-width="0.9"/>
<line x1="391.5" y1="483.5" x2="405.6" y2="487.8" stroke="#000" stroke-width="0.9"/>
<line x1="418.6" y1="513.2" x2="426.2" y2="516" stroke="#000" stroke-width="1.0"/>
<path d="M333.8 475.3 C337 475 341 476.4 343.9 478.7" fill="none" stroke="#000" stroke-width="1.8" />
<ellipse cx="340.2" cy="486.6" rx="3.6" ry="6.6" transform="rotate(18 340.2 486.6)" fill="#fff" stroke="#000" stroke-width="2.2"/>
<ellipse cx="342.8" cy="487.5" rx="3.6" ry="6.6" transform="rotate(18 342.8 487.5)" fill="#000" stroke="#000" stroke-width="2.2"/>
<ellipse cx="345.3" cy="488.3" rx="3.6" ry="6.6" transform="rotate(18 345.3 488.3)" fill="#000" stroke="#000" stroke-width="2.2"/>
<ellipse cx="347.8" cy="489.2" rx="3.6" ry="6.6" transform="rotate(18 347.8 489.2)" fill="#000" stroke="#000" stroke-width="2.2"/>
<ellipse cx="350.4" cy="490.0" rx="3.6" ry="6.6" transform="rotate(18 350.4 490.0)" fill="#000" stroke="#000" stroke-width="2.2"/>
<ellipse cx="339.9" cy="486.5" rx="2.4" ry="5.2" transform="rotate(18 339.9 486.5)" fill="#fff" stroke="#000" stroke-width="1.2"/>
<path d="M365.7 478.8 Q365.4 475.5 366.7 473.2 Q368.0 471.0 370.7 470.7 Q373.4 470.4 375.2 472.2 Q377.0 474.0 378.2 476.5 Q379.5 479.0 381.2 478.2 Q383.0 477.4 385.8 477.2 Q388.6 477.0 390.3 478.5 Q392.0 480.0 393.2 481.8 Q394.4 483.6 396.3 486.2 Q398.2 488.8 401.6 495.6 Q405.0 502.4 404.8 504.7 Q404.6 507.0 403.6 508.7 Q402.5 510.4 400.1 511.5 Q397.8 512.6 395.6 512.0 Q393.4 511.4 391.6 508.2 Q389.8 505.1 388.1 507.0 Q386.4 508.8 383.0 509.2 Q379.6 509.6 377.5 506.9 Q375.3 504.1 372.9 498.6 Q370.5 493.0 368.2 487.6 Q366.0 482.1 365.7 478.8 Z" fill="#fff" stroke="#000" stroke-width="1.6" />
<ellipse cx="371.1" cy="476.1" rx="3.6" ry="4.4" transform="rotate(0 371.1 476.1)" fill="#fff" stroke="#000" stroke-width="1.8"/>
<ellipse cx="387.2" cy="481.2" rx="2.4" ry="2.8" transform="rotate(0 387.2 481.2)" fill="#fff" stroke="#000" stroke-width="1.3"/>
<ellipse cx="398.2" cy="505.8" rx="3.8" ry="4.8" transform="rotate(15 398.2 505.8)" fill="#fff" stroke="#000" stroke-width="2.0"/>
<path d="M368.5 485.5 L381.3 489.7 L389.8 504.1 M381.3 489.7 L385.5 484.6 M374.4 480 L380.4 483.6" fill="none" stroke="#000" stroke-width="1.2" />
<path d="M380 506.6 C381.6 502.6 386 502.6 388 506.4" fill="none" stroke="#000" stroke-width="1.2" />
<path d="M489.2 395.2 L480.8 403.2 L481.6 406 L484.8 406.8 L493.4 398.8 Z" fill="#fff" stroke="#000" stroke-width="1.3" />
<path d="M487 397.6 L490.6 400.6 M485 399.6 L488.6 402.6 M483 401.6 L486.6 404.6" fill="none" stroke="#000" stroke-width="0.9" />
<path d="M491.8 387.7 Q493.6 386.4 496.0 386.7 Q498.4 387.0 499.7 388.8 Q501.0 390.6 500.8 392.6 Q500.6 394.6 499.1 396.0 Q497.6 397.4 495.3 397.5 Q493.0 397.6 491.3 396.0 Q489.6 394.4 489.8 391.7 Q490.0 389.0 491.8 387.7 Z" fill="#fff" stroke="#000" stroke-width="1.4" />
<path d="M491.6 392.4 C494 390.4 497.6 391.4 498.8 394.4" fill="none" stroke="#000" stroke-width="1.0" />
<line x1="501.3" y1="394.8" x2="514.3" y2="394.8" stroke="#000" stroke-width="1.3"/>
<path d="M459 412.4 L461.4 405.9 L468.8 407.5 L475.3 414.8 L482.6 419.7 L482.6 422.9 L472 423.8 L465.5 418.9 L459.8 415.6 Z" fill="#fff" stroke="#000" stroke-width="1.4" />
<path d="M461.6 407 L467 408 L466 412.6 L461 411.4 Z" fill="#000" stroke="#000" stroke-width="1" />
<path d="M469.6 414 L473.4 415 L473 419.6 L469 418.6 Z" fill="#000" stroke="#000" stroke-width="1" />
<path d="M476 417 L482 421.6 L476 422.4" fill="none" stroke="#000" stroke-width="1.6" />
<line x1="482.6" y1="421.8" x2="498.8" y2="421.8" stroke="#000" stroke-width="1.3"/>
<path d="M430.6 428.6 L436.3 424.6 L442.8 422.9 L460.6 428.6 L468.8 436.8 L463.9 446.5 L458.2 453 L450.9 452.2 L434.6 444.9 L429.8 436.8 Z" fill="#fff" stroke="#000" stroke-width="1.4" />
<ellipse cx="457.4" cy="444.1" rx="3.4" ry="5.0" transform="rotate(15 457.4 444.1)" fill="#fff" stroke="#000" stroke-width="1.3"/>
<path d="M436.3 424.6 L440 430 L455.5 435.5 L460.6 428.6 M440 430 L437.5 436 L444 446 M448 433 L446 440 L450.9 452.2 M437.5 436 L430.5 433 M446 440 L438 444" fill="none" stroke="#000" stroke-width="1.1" />
<path d="M443 422.9 L444.5 426 L458 430.5" fill="none" stroke="#000" stroke-width="1.0" />
<line x1="464.7" y1="447.3" x2="487.4" y2="447.3" stroke="#000" stroke-width="1.3"/>
<line x1="912.1" y1="316" x2="912.1" y2="332.8" stroke="#000" stroke-width="1.3"/>
<line x1="971.2" y1="354.7" x2="971.2" y2="370.5" stroke="#000" stroke-width="1.3"/>
<line x1="1008.3" y1="349.7" x2="1008.3" y2="369.5" stroke="#000" stroke-width="1.3"/>
<line x1="957.5" y1="414.8" x2="957.5" y2="425.7" stroke="#000" stroke-width="1.3"/>
<line x1="975.7" y1="423.7" x2="975.7" y2="443.6" stroke="#000" stroke-width="1.3"/>
<line x1="1001.1" y1="440.6" x2="1001.1" y2="457.5" stroke="#000" stroke-width="1.3"/>
<line x1="1034.3" y1="456.5" x2="1034.3" y2="471.4" stroke="#000" stroke-width="1.3"/>
<line x1="911.8" y1="475.3" x2="911.8" y2="489.2" stroke="#000" stroke-width="1.3"/>
<path d="M888.7 331.4 L931.2 346.4 L932.8 342.0 L890.3 327.0 Z" fill="#fff" stroke="#000" stroke-width="1.3" />
<line x1="889.9" y1="331.8" x2="892.2" y2="327.7" stroke="#000" stroke-width="0.9"/>
<line x1="891.5" y1="332.3" x2="893.8" y2="328.3" stroke="#000" stroke-width="0.9"/>
<line x1="893.1" y1="332.9" x2="895.4" y2="328.8" stroke="#000" stroke-width="0.9"/>
<line x1="894.7" y1="333.5" x2="897.0" y2="329.4" stroke="#000" stroke-width="0.9"/>
<line x1="896.3" y1="334.0" x2="898.6" y2="330.0" stroke="#000" stroke-width="0.9"/>
<line x1="897.9" y1="334.6" x2="900.2" y2="330.5" stroke="#000" stroke-width="0.9"/>
<line x1="899.5" y1="335.2" x2="901.8" y2="331.1" stroke="#000" stroke-width="0.9"/>
<line x1="901.1" y1="335.7" x2="903.4" y2="331.7" stroke="#000" stroke-width="0.9"/>
<path d="M931.8 349.7 L936.7 351.5 L940.3 341.6 L935.4 339.9 Z" fill="#fff" stroke="#000" stroke-width="1.0" />
<ellipse cx="938.5" cy="346.6" rx="3.2" ry="5.248" transform="rotate(20 938.5 346.6)" fill="#fff" stroke="#000" stroke-width="1.3"/>
<ellipse cx="933.6" cy="344.8" rx="3.5200000000000005" ry="6.4" transform="rotate(20 933.6 344.8)" fill="#fff" stroke="#000" stroke-width="2.0"/>
<ellipse cx="934.7" cy="345.2" rx="2.688" ry="4.7232" transform="rotate(20 934.7 345.2)" fill="#fff" stroke="#000" stroke-width="1.0"/>
<line x1="934.4" y1="347.0" x2="938.8" y2="348.6" stroke="#000" stroke-width="0.9"/>
<line x1="935.7" y1="343.3" x2="940.1" y2="344.9" stroke="#000" stroke-width="0.9"/>
<line x1="878.9" y1="325.5" x2="888.9" y2="328.9" stroke="#000" stroke-width="0.9" stroke-dasharray="5 2"/>
<ellipse cx="971.8" cy="378.1" rx="5.6" ry="6.8" transform="rotate(0 971.8 378.1)" fill="#fff" stroke="#000" stroke-width="2.0"/>
<ellipse cx="971.6" cy="378.3" rx="1.6" ry="2.6" transform="rotate(0 971.6 378.3)" fill="none" stroke="#000" stroke-width="1.6"/>
<path d="M994.0 381.2 L1008.0 381.2 L1008.0 374.8 L994.0 374.8 Z" fill="#fff" stroke="#000" stroke-width="1.3" />
<line x1="995.2" y1="381.2" x2="996.0" y2="374.8" stroke="#000" stroke-width="0.9"/>
<line x1="996.9" y1="381.2" x2="997.7" y2="374.8" stroke="#000" stroke-width="0.9"/>
<line x1="998.6" y1="381.2" x2="999.4" y2="374.8" stroke="#000" stroke-width="0.9"/>
<line x1="1000.3" y1="381.2" x2="1001.1" y2="374.8" stroke="#000" stroke-width="0.9"/>
<line x1="1002.0" y1="381.2" x2="1002.8" y2="374.8" stroke="#000" stroke-width="0.9"/>
<line x1="1003.7" y1="381.2" x2="1004.5" y2="374.8" stroke="#000" stroke-width="0.9"/>
<line x1="1005.4" y1="381.2" x2="1006.2" y2="374.8" stroke="#000" stroke-width="0.9"/>
<line x1="1007.1" y1="381.2" x2="1007.9" y2="374.8" stroke="#000" stroke-width="0.9"/>
<path d="M1008.6 383.9 L1015.0 383.9 L1015.0 371.7 L1008.6 371.7 Z" fill="#fff" stroke="#000" stroke-width="1.0" />
<ellipse cx="1015.0" cy="377.8" rx="3.7" ry="6.068" transform="rotate(0 1015.0 377.8)" fill="#fff" stroke="#000" stroke-width="1.3"/>
<ellipse cx="1008.6" cy="377.8" rx="4.07" ry="7.4" transform="rotate(0 1008.6 377.8)" fill="#fff" stroke="#000" stroke-width="2.0"/>
<ellipse cx="1009.8" cy="377.8" rx="3.108" ry="5.4612" transform="rotate(0 1009.8 377.8)" fill="#fff" stroke="#000" stroke-width="1.0"/>
<line x1="1010.1" y1="379.9" x2="1016.0" y2="379.9" stroke="#000" stroke-width="0.9"/>
<line x1="1010.1" y1="375.4" x2="1016.0" y2="375.4" stroke="#000" stroke-width="0.9"/>
<ellipse cx="1017.6" cy="377.8" rx="2.6" ry="5.6" transform="rotate(0 1017.6 377.8)" fill="#fff" stroke="#000" stroke-width="1.4"/>
<line x1="903.7" y1="379.1" x2="966" y2="378.5" stroke="#000" stroke-width="1.4"/>
<line x1="977.8" y1="378.5" x2="993" y2="378.5" stroke="#000" stroke-width="1.4"/>
<path d="M925.6 379.5 L925.7 416.3" fill="none" stroke="#000" stroke-width="1.4" />
<line x1="912.7" y1="388.4" x2="956.3" y2="409.4" stroke="#000" stroke-width="1.3"/>
<line x1="925.7" y1="416.3" x2="878.1" y2="458.2" stroke="#000" stroke-width="1.1"/>
<line x1="904.9" y1="404.9" x2="925.7" y2="415.8" stroke="#000" stroke-width="1.1"/>
<ellipse cx="959.1" cy="410.9" rx="3.2" ry="3.2" transform="rotate(0 959.1 410.9)" fill="#fff" stroke="#000" stroke-width="1.2"/>
<path d="M970.1 412.0 L970.5 411.9 L970.7 412.0 L971.0 412.2 L971.2 412.4 L971.3 412.7 L971.4 413.1 L971.4 413.6 L971.3 414.1 L971.2 414.6 L971.1 415.1 L970.9 415.7 L970.6 416.2 L970.3 416.8 L969.9 417.3 L969.6 417.7 L969.2 418.1 L968.8 418.4 L968.5 418.6 L968.1 418.8 L967.7 418.9 L967.4 418.8 L967.2 418.7 L966.9 418.5 L966.8 418.3" fill="none" stroke="#000" stroke-width="1.2" />
<path d="M966.8 418.3 L966.7 418.1 L966.6 417.8 L966.6 417.5 L966.6 417.3 L966.6 417.0 L966.7 416.6 L966.7 416.3 L966.8 416.0 L966.9 415.6 L967.1 415.3 L967.2 414.9 L967.4 414.6 L967.6 414.2 L967.8 413.9 L968.0 413.6 L968.2 413.3 L968.5 413.0 L968.7 412.8 L969.0 412.6 L969.2 412.4 L969.4 412.2 L969.7 412.1 L969.9 412.0 L970.1 412.0" fill="none" stroke="#000" stroke-width="0.9" />
<path d="M973.4 413.8 L973.8 413.7 L974.0 413.8 L974.3 414.0 L974.5 414.2 L974.6 414.5 L974.7 414.9 L974.7 415.4 L974.6 415.9 L974.5 416.4 L974.4 416.9 L974.2 417.5 L973.9 418.0 L973.6 418.6 L973.2 419.1 L972.9 419.5 L972.5 419.9 L972.1 420.2 L971.8 420.4 L971.4 420.6 L971.0 420.7 L970.7 420.6 L970.5 420.5 L970.2 420.3 L970.1 420.1" fill="none" stroke="#000" stroke-width="1.2" />
<path d="M970.1 420.1 L970.0 419.9 L969.9 419.6 L969.9 419.3 L969.9 419.1 L969.9 418.8 L970.0 418.4 L970.0 418.1 L970.1 417.8 L970.2 417.4 L970.4 417.1 L970.5 416.7 L970.7 416.4 L970.9 416.0 L971.1 415.7 L971.3 415.4 L971.5 415.1 L971.8 414.8 L972.0 414.6 L972.3 414.4 L972.5 414.2 L972.7 414.0 L973.0 413.9 L973.2 413.8 L973.4 413.8" fill="none" stroke="#000" stroke-width="0.9" />
<path d="M976.7 415.7 L977.1 415.6 L977.3 415.7 L977.6 415.9 L977.8 416.1 L977.9 416.4 L978.0 416.8 L978.0 417.3 L977.9 417.8 L977.8 418.3 L977.7 418.8 L977.5 419.4 L977.2 419.9 L976.9 420.5 L976.5 421.0 L976.2 421.4 L975.8 421.8 L975.4 422.1 L975.1 422.3 L974.7 422.5 L974.3 422.6 L974.0 422.5 L973.8 422.4 L973.5 422.2 L973.4 422.0" fill="none" stroke="#000" stroke-width="1.2" />
<path d="M973.4 422.0 L973.3 421.8 L973.2 421.5 L973.2 421.2 L973.2 421.0 L973.2 420.7 L973.3 420.3 L973.3 420.0 L973.4 419.7 L973.5 419.3 L973.7 419.0 L973.8 418.6 L974.0 418.3 L974.2 417.9 L974.4 417.6 L974.6 417.3 L974.8 417.0 L975.1 416.7 L975.3 416.5 L975.6 416.3 L975.8 416.1 L976.0 415.9 L976.3 415.8 L976.5 415.7 L976.7 415.7" fill="none" stroke="#000" stroke-width="0.9" />
<path d="M980.0 417.5 L980.4 417.4 L980.6 417.5 L980.9 417.7 L981.1 417.9 L981.2 418.2 L981.3 418.6 L981.3 419.1 L981.2 419.6 L981.1 420.1 L981.0 420.6 L980.8 421.2 L980.5 421.7 L980.2 422.3 L979.8 422.8 L979.5 423.2 L979.1 423.6 L978.7 423.9 L978.4 424.1 L978.0 424.3 L977.6 424.4 L977.3 424.3 L977.1 424.2 L976.8 424.0 L976.7 423.8" fill="none" stroke="#000" stroke-width="1.2" />
<path d="M976.7 423.8 L976.6 423.6 L976.5 423.3 L976.5 423.0 L976.5 422.8 L976.5 422.5 L976.6 422.1 L976.6 421.8 L976.7 421.5 L976.8 421.1 L977.0 420.8 L977.1 420.4 L977.3 420.1 L977.5 419.7 L977.7 419.4 L977.9 419.1 L978.1 418.8 L978.4 418.5 L978.6 418.3 L978.9 418.1 L979.1 417.9 L979.3 417.7 L979.6 417.6 L979.8 417.5 L980.0 417.5" fill="none" stroke="#000" stroke-width="0.9" />
<path d="M983.3 419.4 L983.7 419.3 L983.9 419.4 L984.2 419.6 L984.4 419.8 L984.5 420.1 L984.6 420.5 L984.6 421.0 L984.5 421.5 L984.4 422.0 L984.3 422.5 L984.1 423.1 L983.8 423.6 L983.5 424.2 L983.1 424.7 L982.8 425.1 L982.4 425.5 L982.0 425.8 L981.7 426.0 L981.3 426.2 L980.9 426.3 L980.6 426.2 L980.4 426.1 L980.1 425.9 L980.0 425.7" fill="none" stroke="#000" stroke-width="1.2" />
<path d="M980.0 425.7 L979.9 425.5 L979.8 425.2 L979.8 424.9 L979.8 424.7 L979.8 424.4 L979.9 424.0 L979.9 423.7 L980.0 423.4 L980.1 423.0 L980.3 422.7 L980.4 422.3 L980.6 422.0 L980.8 421.6 L981.0 421.3 L981.2 421.0 L981.4 420.7 L981.7 420.4 L981.9 420.2 L982.2 420.0 L982.4 419.8 L982.6 419.6 L982.9 419.5 L983.1 419.4 L983.3 419.4" fill="none" stroke="#000" stroke-width="0.9" />
<path d="M986.6 421.2 L987.0 421.1 L987.2 421.2 L987.5 421.4 L987.7 421.6 L987.8 421.9 L987.9 422.3 L987.9 422.8 L987.8 423.3 L987.7 423.8 L987.6 424.3 L987.4 424.9 L987.1 425.4 L986.8 426.0 L986.4 426.5 L986.1 426.9 L985.7 427.3 L985.3 427.6 L985.0 427.8 L984.6 428.0 L984.2 428.1 L983.9 428.0 L983.7 427.9 L983.4 427.7 L983.3 427.5" fill="none" stroke="#000" stroke-width="1.2" />
<path d="M983.3 427.5 L983.2 427.3 L983.1 427.0 L983.1 426.7 L983.1 426.5 L983.1 426.2 L983.2 425.8 L983.2 425.5 L983.3 425.2 L983.4 424.8 L983.6 424.5 L983.7 424.1 L983.9 423.8 L984.1 423.4 L984.3 423.1 L984.5 422.8 L984.7 422.5 L985.0 422.2 L985.2 422.0 L985.5 421.8 L985.7 421.6 L985.9 421.4 L986.2 421.3 L986.4 421.2 L986.6 421.2" fill="none" stroke="#000" stroke-width="0.9" />
<ellipse cx="1004.7" cy="432.7" rx="6.6" ry="6.4" transform="rotate(-20 1004.7 432.7)" fill="#fff" stroke="#000" stroke-width="2.0"/>
<ellipse cx="1003.8" cy="433.2" rx="2.4" ry="2.8" transform="rotate(-20 1003.8 433.2)" fill="none" stroke="#000" stroke-width="1.5"/>
<path d="M1008.0 436.5 L1007.6 436.9 L1007.1 437.2 L1006.6 437.5 L1006.1 437.8 L1005.6 438.0 L1005.0 438.1 L1004.4 438.2 L1003.8 438.2 L1003.3 438.2 L1002.7 438.0 L1002.2 437.9 L1001.7 437.6 L1001.2 437.3 L1000.7 437.0 L1000.3 436.5 L1000.0 436.1 L999.7 435.6 L999.5 435.1 L999.3 434.6 L999.2 434.0 L999.2 433.5 L999.3 432.9 L999.4 432.4 L999.5 431.8" fill="none" stroke="#000" stroke-width="1.2" />
<path d="M1020.7 444.2 L1034.9 453.0 L1038.3 447.4 L1024.1 438.6 Z" fill="#fff" stroke="#000" stroke-width="1.3" />
<line x1="1021.7" y1="444.8" x2="1025.8" y2="439.6" stroke="#000" stroke-width="0.9"/>
<line x1="1023.1" y1="445.7" x2="1027.3" y2="440.5" stroke="#000" stroke-width="0.9"/>
<line x1="1024.6" y1="446.6" x2="1028.7" y2="441.4" stroke="#000" stroke-width="0.9"/>
<line x1="1026.0" y1="447.5" x2="1030.2" y2="442.3" stroke="#000" stroke-width="0.9"/>
<line x1="1027.5" y1="448.4" x2="1031.6" y2="443.2" stroke="#000" stroke-width="0.9"/>
<line x1="1028.9" y1="449.3" x2="1033.1" y2="444.1" stroke="#000" stroke-width="0.9"/>
<line x1="1030.4" y1="450.2" x2="1034.5" y2="445.0" stroke="#000" stroke-width="0.9"/>
<line x1="1031.8" y1="451.1" x2="1036.0" y2="445.9" stroke="#000" stroke-width="0.9"/>
<line x1="1033.2" y1="452.0" x2="1037.4" y2="446.8" stroke="#000" stroke-width="0.9"/>
<ellipse cx="1022.4" cy="441.4" rx="2.0" ry="3.4" transform="rotate(32 1022.4 441.4)" fill="#000" stroke="#000" stroke-width="1.2"/>
<path d="M1034.5 455.4 L1039.9 458.8 L1046.2 448.8 L1040.7 445.4 Z" fill="#fff" stroke="#000" stroke-width="1.0" />
<ellipse cx="1043.0" cy="453.8" rx="3.6" ry="5.904" transform="rotate(32 1043.0 453.8)" fill="#fff" stroke="#000" stroke-width="1.3"/>
<ellipse cx="1037.6" cy="450.4" rx="3.9600000000000004" ry="7.2" transform="rotate(32 1037.6 450.4)" fill="#fff" stroke="#000" stroke-width="2.0"/>
<ellipse cx="1038.6" cy="451.0" rx="3.024" ry="5.3136" transform="rotate(32 1038.6 451.0)" fill="#fff" stroke="#000" stroke-width="1.0"/>
<line x1="1037.8" y1="452.9" x2="1042.8" y2="456.1" stroke="#000" stroke-width="0.9"/>
<line x1="1040.1" y1="449.2" x2="1045.1" y2="452.3" stroke="#000" stroke-width="0.9"/>
<path d="M899.8 469.8 L942.2 484.8 L943.8 480.0 L901.4 465.0 Z" fill="#fff" stroke="#000" stroke-width="1.3" />
<line x1="900.9" y1="470.2" x2="903.3" y2="465.7" stroke="#000" stroke-width="0.9"/>
<line x1="902.5" y1="470.7" x2="904.9" y2="466.3" stroke="#000" stroke-width="0.9"/>
<line x1="904.1" y1="471.3" x2="906.5" y2="466.8" stroke="#000" stroke-width="0.9"/>
<line x1="905.7" y1="471.9" x2="908.1" y2="467.4" stroke="#000" stroke-width="0.9"/>
<line x1="907.3" y1="472.4" x2="909.7" y2="468.0" stroke="#000" stroke-width="0.9"/>
<line x1="908.9" y1="473.0" x2="911.3" y2="468.5" stroke="#000" stroke-width="0.9"/>
<path d="M942.5 488.5 L947.6 490.3 L951.3 480.2 L946.3 478.3 Z" fill="#fff" stroke="#000" stroke-width="1.0" />
<ellipse cx="949.5" cy="485.2" rx="3.3" ry="5.411999999999999" transform="rotate(20 949.5 485.2)" fill="#fff" stroke="#000" stroke-width="1.3"/>
<ellipse cx="944.4" cy="483.4" rx="3.63" ry="6.6" transform="rotate(20 944.4 483.4)" fill="#fff" stroke="#000" stroke-width="2.0"/>
<ellipse cx="945.5" cy="483.8" rx="2.772" ry="4.870799999999999" transform="rotate(20 945.5 483.8)" fill="#fff" stroke="#000" stroke-width="1.0"/>
<line x1="945.2" y1="485.7" x2="949.8" y2="487.4" stroke="#000" stroke-width="0.9"/>
<line x1="946.5" y1="481.9" x2="951.2" y2="483.6" stroke="#000" stroke-width="0.9"/>
<line x1="866" y1="454" x2="899.9" y2="467" stroke="#000" stroke-width="0.9" stroke-dasharray="12 3"/>
<path d="M850.1 500.9 L912.7 524.9 L914.5 520.3 L851.9 496.3 Z" fill="#fff" stroke="#000" stroke-width="1.3" />
<line x1="851.2" y1="501.4" x2="853.8" y2="497.0" stroke="#000" stroke-width="0.9"/>
<line x1="852.8" y1="502.0" x2="855.3" y2="497.6" stroke="#000" stroke-width="0.9"/>
<line x1="854.4" y1="502.6" x2="856.9" y2="498.2" stroke="#000" stroke-width="0.9"/>
<line x1="856.0" y1="503.2" x2="858.5" y2="498.8" stroke="#000" stroke-width="0.9"/>
<line x1="857.6" y1="503.8" x2="860.1" y2="499.4" stroke="#000" stroke-width="0.9"/>
<line x1="859.2" y1="504.4" x2="861.7" y2="500.0" stroke="#000" stroke-width="0.9"/>
<line x1="860.7" y1="505.0" x2="863.3" y2="500.6" stroke="#000" stroke-width="0.9"/>
<line x1="862.3" y1="505.6" x2="864.9" y2="501.2" stroke="#000" stroke-width="0.9"/>
<path d="M913.5 529.1 L918.6 530.9 L922.3 520.8 L917.3 518.9 Z" fill="#fff" stroke="#000" stroke-width="1.0" />
<ellipse cx="920.5" cy="525.8" rx="3.3" ry="5.411999999999999" transform="rotate(20 920.5 525.8)" fill="#fff" stroke="#000" stroke-width="1.3"/>
<ellipse cx="915.4" cy="524" rx="3.63" ry="6.6" transform="rotate(20 915.4 524)" fill="#fff" stroke="#000" stroke-width="2.0"/>
<ellipse cx="916.5" cy="524.4" rx="2.772" ry="4.870799999999999" transform="rotate(20 916.5 524.4)" fill="#fff" stroke="#000" stroke-width="1.0"/>
<line x1="916.2" y1="526.3" x2="920.8" y2="528.0" stroke="#000" stroke-width="0.9"/>
<line x1="917.5" y1="522.5" x2="922.2" y2="524.2" stroke="#000" stroke-width="0.9"/>
<line x1="871.7" y1="511.5" x2="871.7" y2="524" stroke="#000" stroke-width="1.3"/>
<line x1="768.1" y1="477.5" x2="768.1" y2="499.8" stroke="#000" stroke-width="1.4"/>
<line x1="801.6" y1="489" x2="801.6" y2="513" stroke="#000" stroke-width="1.4"/>
<path d="M858.6 250.8 L858.4 261.6 L861 264 L867.6 264.4 L871.6 261.6 L871.8 251.4 Z" fill="#fff" stroke="#000" stroke-width="1.3" />
<ellipse cx="865.2" cy="251.2" rx="6.6" ry="2.8" transform="rotate(0 865.2 251.2)" fill="#fff" stroke="#000" stroke-width="1.5"/>
<ellipse cx="865.2" cy="251.6" rx="4.4" ry="1.6" transform="rotate(0 865.2 251.6)" fill="none" stroke="#000" stroke-width="0.9"/>
<line x1="872" y1="256.2" x2="899" y2="256.2" stroke="#000" stroke-width="1.4"/>
<line x1="863.6" y1="264.4" x2="859.6" y2="303.4" stroke="#000" stroke-width="2.0"/>
<path d="M855.2 305.6 L855.6 315.6 L858.6 318.4 L862.4 316.6 L863.2 306.4 Z" fill="#fff" stroke="#000" stroke-width="1.3" />
<path d="M856 303.6 L862.6 304.2 L863.2 307.6 L855.2 306.8 Z" fill="#000" stroke="#000" stroke-width="1" />
<path d="M841.4 316.8 Q838.9 311.1 838.2 307.2 Q837.6 303.4 835.0 301.9 Q832.4 300.4 824.3 302.0 Q816.2 303.6 809.7 307.4 Q803.2 311.1 797.4 315.3 Q791.5 319.5 789.2 324.2 Q787.0 329.0 782.9 334.6 Q778.8 340.3 774.3 345.6 Q769.9 350.9 766.2 352.9 Q762.6 355.0 759.4 359.5 Q756.1 364.0 753.7 368.0 Q751.2 372.0 750.0 378.2 Q748.8 384.4 746.8 390.9 Q744.7 397.3 742.0 401.9 Q739.3 406.5 739.6 409.5 Q739.9 412.5 742.3 415.5 Q744.7 418.5 745.6 424.1 Q746.5 429.8 748.5 433.9 Q750.6 437.9 751.4 442.8 Q752.2 447.6 755.0 453.3 Q757.9 459.0 761.1 463.9 Q764.4 468.8 765.6 472.1 Q766.8 475.3 769.6 475.8 Q772.5 476.3 777.4 476.3 Q782.3 476.3 785.9 478.1 L789.5 479.8" fill="none" stroke="#000" stroke-width="2.6" />
<path d="M830.8 317.6 Q825.9 320.0 818.6 322.9 Q811.3 325.7 805.2 329.4 Q799.1 333.0 793.9 337.5 Q788.6 342.0 783.7 346.9 Q778.8 351.7 774.3 358.2 Q769.9 364.7 766.2 369.9 Q762.6 375.0 759.4 381.3 Q756.1 387.6 754.1 394.9 Q752.1 402.2 751.8 408.7 Q751.4 415.2 753.0 421.7 Q754.5 428.2 757.0 433.1 Q759.5 438.0 760.7 441.5 Q761.9 445.0 764.0 448.9 Q766.0 452.9 769.2 457.2 Q772.5 461.6 775.8 465.2 Q779.0 468.8 781.0 470.4 L783.1 472.0" fill="none" stroke="#000" stroke-width="1.3" />
<path d="M799.1 321.7 C806 315.5 818 308.6 831.6 308.8 M800.8 325.7 C809 320 820 316.6 830 319.6" fill="none" stroke="#000" stroke-width="2.2" />
<ellipse cx="793.5" cy="324.4" rx="3.2" ry="4.0" transform="rotate(20 793.5 324.4)" fill="#fff" stroke="#000" stroke-width="1.6"/>
<ellipse cx="793.8" cy="324.7" rx="1.4" ry="2.0" transform="rotate(20 793.8 324.7)" fill="none" stroke="#000" stroke-width="1.0"/>
<ellipse cx="833.2" cy="307" rx="3.2" ry="4.0" transform="rotate(20 833.2 307)" fill="#fff" stroke="#000" stroke-width="1.6"/>
<ellipse cx="833.5" cy="307.3" rx="1.4" ry="2.0" transform="rotate(20 833.5 307.3)" fill="none" stroke="#000" stroke-width="1.0"/>
<ellipse cx="765" cy="357.4" rx="3.2" ry="4.0" transform="rotate(20 765 357.4)" fill="#fff" stroke="#000" stroke-width="1.6"/>
<ellipse cx="765.3" cy="357.7" rx="1.4" ry="2.0" transform="rotate(20 765.3 357.7)" fill="none" stroke="#000" stroke-width="1.0"/>
<ellipse cx="759.4" cy="367.1" rx="3.2" ry="4.0" transform="rotate(20 759.4 367.1)" fill="#fff" stroke="#000" stroke-width="1.6"/>
<ellipse cx="759.6999999999999" cy="367.40000000000003" rx="1.4" ry="2.0" transform="rotate(20 759.6999999999999 367.40000000000003)" fill="none" stroke="#000" stroke-width="1.0"/>
<ellipse cx="743.9" cy="408.4" rx="3.2" ry="4.0" transform="rotate(20 743.9 408.4)" fill="#fff" stroke="#000" stroke-width="1.6"/>
<ellipse cx="744.1999999999999" cy="408.7" rx="1.4" ry="2.0" transform="rotate(20 744.1999999999999 408.7)" fill="none" stroke="#000" stroke-width="1.0"/>
<ellipse cx="756.3" cy="441.1" rx="3.2" ry="4.0" transform="rotate(20 756.3 441.1)" fill="#fff" stroke="#000" stroke-width="1.6"/>
<ellipse cx="756.5999999999999" cy="441.40000000000003" rx="1.4" ry="2.0" transform="rotate(20 756.5999999999999 441.40000000000003)" fill="none" stroke="#000" stroke-width="1.0"/>
<ellipse cx="770.1" cy="470.4" rx="3.2" ry="4.0" transform="rotate(20 770.1 470.4)" fill="#fff" stroke="#000" stroke-width="1.6"/>
<ellipse cx="770.4" cy="470.7" rx="1.4" ry="2.0" transform="rotate(20 770.4 470.7)" fill="none" stroke="#000" stroke-width="1.0"/>
<path d="M779.7 351.6 L797.5 358 M779 354 L796.5 360.6" fill="none" stroke="#000" stroke-width="1.0" />
<path d="M735 388.4 L747.2 391.7 M754.5 394.1 L773.2 399.8" fill="none" stroke="#000" stroke-width="0.9" />
<path d="M727 400.6 L739.9 404.7 M751.2 407.9 L767.5 412.8" fill="none" stroke="#000" stroke-width="0.9" />
<path d="M841.4 317.6 Q854.9 312.7 861.0 313.5 Q867.1 314.4 871.5 316.8 Q876.0 319.2 876.8 323.3 Q877.6 327.4 879.2 333.9 Q880.9 340.3 881.7 346.0 Q882.5 351.7 884.5 355.8 Q886.6 359.8 888.2 365.5 Q889.8 371.2 890.7 375.6 L891.6 380.0" fill="none" stroke="#000" stroke-width="1.5" />
<path d="M841.4 317.6 Q833.0 323.4 829.5 325.8 Q825.9 328.2 821.0 329.8 Q816.2 331.4 814.5 335.0 Q812.9 338.7 809.7 344.4 Q806.5 350.1 803.2 355.8 Q800.0 361.5 798.4 363.1 L796.7 364.7" fill="none" stroke="#000" stroke-width="1.5" />
<path d="M839.0 321.2 Q828.0 329.6 823.5 331.5 Q819.0 333.4 817.2 336.9 Q815.4 340.5 812.2 346.2 Q809.0 352.0 805.8 357.5 Q802.6 363.0 800.8 364.8 L799.0 366.6" fill="none" stroke="#000" stroke-width="1.0" />
<ellipse cx="874.4" cy="324.9" rx="4.2" ry="5.6" transform="rotate(15 874.4 324.9)" fill="#fff" stroke="#000" stroke-width="2.0"/>
<ellipse cx="874.8" cy="325.1" rx="1.8" ry="2.8" transform="rotate(15 874.8 325.1)" fill="none" stroke="#000" stroke-width="1.0"/>
<path d="M852.5 321.7 Q858.2 330.6 859.0 335.5 Q859.8 340.3 864.2 343.6 Q868.7 346.8 875.2 349.2 L881.7 351.7" fill="none" stroke="#000" stroke-width="1.2" />
<ellipse cx="838.7" cy="341.2" rx="2.6" ry="3.0" transform="rotate(0 838.7 341.2)" fill="none" stroke="#000" stroke-width="1.2"/>
<path d="M832 346.5 L835 338.5 L841 336 M844.4 343.6 C850 341 856 341 859.8 342" fill="none" stroke="#000" stroke-width="1.0" />
<path d="M848.3 361.4 Q861.3 352.4 869.4 351.2 Q877.5 350.0 881.5 353.2 Q885.6 356.5 887.7 363.0 Q889.7 369.5 890.9 378.4 Q892.1 387.4 890.0 392.7 Q888.0 398.0 884.4 401.6 Q880.8 405.3 875.9 409.4 Q871.0 413.4 865.3 415.9 Q859.6 418.3 854.0 416.6 Q848.3 415.0 845.0 410.1 Q841.8 405.3 839.8 400.4 Q837.7 395.5 837.7 392.6 L837.7 389.8" fill="none" stroke="#000" stroke-width="1.5" />
<path d="M859.0 356.6 Q868.7 352.9 873.6 353.5 Q878.5 354.1 881.0 356.1 L883.5 358.0" fill="none" stroke="#000" stroke-width="1.0" />
<path d="M845.0 400.0 Q850.0 409.0 854.5 411.3 Q859.0 413.6 864.0 412.1 L869.0 410.5" fill="none" stroke="#000" stroke-width="0.9" />
<path d="M865.0 395.6 L863.7 395.0 L862.5 394.2 L861.4 393.3 L860.5 392.2 L859.7 391.0 L859.0 389.7 L858.5 388.3 L858.2 386.9 L858.0 385.4 L858.0 383.9 L858.3 382.4 L858.6 381.0 L859.2 379.6 L859.9 378.4 L860.8 377.2 L861.8 376.2 L862.9 375.3 L864.1 374.6 L865.4 374.0 L866.8 373.7 L868.1 373.5 L869.5 373.5 L870.9 373.8 L872.2 374.2" fill="none" stroke="#000" stroke-width="1.3" />
<path d="M874.7 391.3 L873.8 391.8 L872.8 392.1 L871.8 392.2 L870.8 392.1 L869.8 391.8 L868.9 391.3 L868.1 390.7 L867.4 389.9 L866.8 389.0 L866.3 388.0 L866.1 386.9 L866.0 385.8 L866.1 384.7 L866.3 383.6 L866.8 382.6 L867.4 381.7 L868.1 380.9 L868.9 380.3 L869.8 379.8 L870.8 379.5 L871.8 379.4 L872.8 379.5 L873.8 379.8 L874.7 380.3" fill="none" stroke="#000" stroke-width="1.2" />
<path d="M860 396.5 C864 399.5 869 399 872.6 396" fill="none" stroke="#000" stroke-width="1.0" />
<path d="M877.5 381.6 L904.6 381.8 L903.5 387.6 L877.5 386.4 Z" fill="#fff" stroke="#000" stroke-width="1.2" />
<path d="M875.9 377.6 L900.3 379.4 L900.3 381.4 L875.9 379.8 Z" fill="#444" stroke="#000" stroke-width="1.2" />
<ellipse cx="906.6" cy="384.9" rx="2.8" ry="3.6" transform="rotate(0 906.6 384.9)" fill="#fff" stroke="#000" stroke-width="1.2"/>
<path d="M876.4 389.6 L899.6 399.4 L896.6 405.8 L873.4 394.6 Z" fill="#fff" stroke="#000" stroke-width="1.4" />
<path d="M880 392 L897.5 400.2" fill="none" stroke="#000" stroke-width="2.0" />
<ellipse cx="900.4" cy="403" rx="3.0" ry="4.2" transform="rotate(25 900.4 403)" fill="#fff" stroke="#000" stroke-width="1.2"/>
<path d="M886.6 396.6 L884.4 402 M889.6 398 L887.4 403.4" fill="none" stroke="#000" stroke-width="0.9" />
<path d="M890.5 369.5 Q897.0 373.0 900.2 375.3 Q903.5 377.6 903.5 379.3 Q903.6 381.0 902.8 382.6 L901.9 384.1" fill="none" stroke="#000" stroke-width="1.4" />
<path d="M815 371.2 L825.6 356.6 L823.4 363.6 M818.4 371 L824.4 361 M820 365 L826 367" fill="none" stroke="#000" stroke-width="1.0" />
<path d="M843 364.5 L846.4 370 M842 371 L848.5 371.6 M844.6 376.4 L847 379" fill="none" stroke="#000" stroke-width="1.3" />
<path d="M788.6 371.5 C787.5 364.5 792.5 361.6 796 362.6 C799.5 363.8 800.8 368 799.4 373.4" fill="#fff" stroke="#000" stroke-width="1.4" />
<path d="M791.6 364.4 L791.2 371.6 M794.4 363.6 L794 372" fill="none" stroke="#000" stroke-width="0.9" />
<path d="M783.7 371.4 L806.5 379.2 M782.1 382.9 L801.6 390 M783.7 371.4 C779.6 371 778.4 380.8 782.1 382.9" fill="none" stroke="#000" stroke-width="1.5" />
<ellipse cx="806.1" cy="384.7" rx="4.4" ry="5.7" transform="rotate(15 806.1 384.7)" fill="#fff" stroke="#000" stroke-width="1.6"/>
<ellipse cx="806.5" cy="384.9" rx="2.0" ry="2.9" transform="rotate(15 806.5 384.9)" fill="none" stroke="#000" stroke-width="1.0"/>
<path d="M783.7 383.5 Q774.0 399.0 772.0 406.3 L769.9 413.6" fill="none" stroke="#000" stroke-width="1.4" />
<path d="M788.6 385.0 Q779.7 400.6 778.5 406.3 L777.2 412.0" fill="none" stroke="#000" stroke-width="1.0" />
<path d="M800.0 390.9 Q791.8 405.5 790.2 411.5 L788.6 417.5" fill="none" stroke="#000" stroke-width="1.0" />
<path d="M803.2 391.7 Q795.9 407.1 794.2 412.9 L792.6 418.6" fill="none" stroke="#000" stroke-width="1.4" />
<path d="M785 392 L781 408" fill="none" stroke="#000" stroke-width="0.8" stroke-dasharray="3 2" />
<path d="M768.5 414.4 L788.6 418.1 M768.3 424.3 L785.3 429 M768.5 414.4 C765 414.8 764.6 423.4 768.3 424.3" fill="none" stroke="#000" stroke-width="1.5" />
<ellipse cx="788.6" cy="423.7" rx="4.4" ry="5.4" transform="rotate(15 788.6 423.7)" fill="#fff" stroke="#000" stroke-width="1.6"/>
<ellipse cx="789" cy="423.9" rx="2.0" ry="2.8" transform="rotate(15 789 423.9)" fill="none" stroke="#000" stroke-width="1.0"/>
<path d="M775.6 415.6 C775.2 411.4 779 410.4 780.4 412.4 L780.4 416.6" fill="none" stroke="#000" stroke-width="1.2" />
<path d="M769.9 425.0 Q774.0 436.3 776.5 438.6 Q779.0 441.0 779.8 446.8 L780.6 452.5" fill="none" stroke="#000" stroke-width="1.4" />
<path d="M774.9 427.2 Q784.7 439.5 787.5 441.9 L790.4 444.4" fill="none" stroke="#000" stroke-width="1.0" />
<path d="M788.6 429.8 Q793.6 439.5 799.3 441.9 L805.0 444.4" fill="none" stroke="#000" stroke-width="1.2" />
<path d="M780.6 446 L803.4 449.3 M783.9 455.8 L800.1 460.6" fill="none" stroke="#000" stroke-width="1.5" />
<ellipse cx="802.6" cy="454.9" rx="4.4" ry="5.6" transform="rotate(15 802.6 454.9)" fill="#fff" stroke="#000" stroke-width="1.6"/>
<ellipse cx="803" cy="455.1" rx="2.0" ry="2.8" transform="rotate(15 803 455.1)" fill="none" stroke="#000" stroke-width="1.0"/>
<path d="M780.6 454.9 Q783.9 468.8 787.1 474.5 Q790.4 480.1 792.8 482.1 Q795.3 484.2 800.1 485.8 Q805.0 487.4 810.7 489.9 Q816.4 492.3 818.8 492.8 Q821.3 493.3 823.7 489.1 Q826.1 485.0 831.0 482.6 Q835.9 480.1 840.0 476.9 Q844.0 473.6 846.0 470.4 Q848.1 467.1 846.0 463.9 Q844.0 460.6 844.0 458.0 Q844.0 455.4 846.0 453.9 L848.0 452.4" fill="none" stroke="#000" stroke-width="1.6" />
<path d="M786.3 459.0 Q792.0 470.4 794.5 473.2 Q796.9 476.1 806.6 479.4 L816.4 482.6" fill="none" stroke="#000" stroke-width="1.0" />
<ellipse cx="819.6" cy="489.1" rx="3.4" ry="3.8" transform="rotate(0 819.6 489.1)" fill="#fff" stroke="#000" stroke-width="1.8"/>
<ellipse cx="819.8" cy="489.3" rx="1.4" ry="1.7" transform="rotate(0 819.8 489.3)" fill="none" stroke="#000" stroke-width="1.0"/>
<path d="M817.4 392.3 Q812.5 402.0 809.2 406.9 Q806.0 411.8 806.4 416.6 Q806.8 421.5 809.6 424.8 Q812.5 428.0 811.9 432.1 L811.3 436.3" fill="none" stroke="#000" stroke-width="1.0" />
<path d="M823.1 393.9 Q819.0 402.0 815.4 407.7 Q811.7 413.4 812.5 418.2 Q813.3 423.1 816.1 426.6 Q819.0 430.0 819.3 431.5 Q819.6 433.0 817.2 437.9 Q814.8 442.8 814.3 447.6 Q813.9 452.5 813.5 458.2 Q813.1 463.9 811.1 466.4 Q809.1 468.8 813.5 474.5 L818.0 480.1" fill="none" stroke="#000" stroke-width="1.0" />
<line x1="823.5" y1="399.8" x2="829.2" y2="402.2" stroke="#000" stroke-width="0.9"/>
<path d="M837.7 391.0 Q835.7 402.2 831.7 407.9 Q827.6 413.6 826.4 418.5 Q825.1 423.3 826.8 426.6 Q828.4 429.8 832.0 429.0 Q835.7 428.2 838.2 424.1 Q840.6 420.1 844.3 418.6 Q848.0 417.2 853.0 418.1 L858.0 419.1" fill="none" stroke="#000" stroke-width="1.3" />
<ellipse cx="832.6" cy="421.7" rx="3.8" ry="4.2" transform="rotate(0 832.6 421.7)" fill="#fff" stroke="#000" stroke-width="1.3"/>
<path d="M837.3 424.1 L850.5 450.9 M834.1 429.8 L848.6 451.6 M857.7 418.3 C858.4 432 857 442 853.8 450.9" fill="none" stroke="#000" stroke-width="1.3" />
<ellipse cx="848.3" cy="454.1" rx="2.6" ry="2.2" transform="rotate(0 848.3 454.1)" fill="#fff" stroke="#000" stroke-width="1.2"/>
<ellipse cx="850.6" cy="450.8" rx="1.6" ry="1.4" transform="rotate(0 850.6 450.8)" fill="#000" stroke="#000" stroke-width="1"/>
<ellipse cx="824.5" cy="459" rx="5.2" ry="5.6" transform="rotate(0 824.5 459)" fill="#fff" stroke="#000" stroke-width="1.4"/>
<path d="M822.4 463.0 L822.0 462.7 L821.7 462.4 L821.4 462.1 L821.1 461.7 L820.9 461.4 L820.7 460.9 L820.5 460.5 L820.4 460.1 L820.3 459.6 L820.3 459.1 L820.3 458.7 L820.4 458.2 L820.5 457.7 L820.6 457.3 L820.8 456.9 L821.0 456.5 L821.2 456.1 L821.5 455.7 L821.8 455.4 L822.2 455.2 L822.6 454.9 L822.9 454.7 L823.4 454.6 L823.8 454.5" fill="none" stroke="#000" stroke-width="2.2" />
<ellipse cx="831.8" cy="446" rx="4.0" ry="4.2" transform="rotate(0 831.8 446)" fill="#222" stroke="#000" stroke-width="1.2"/>
<ellipse cx="836.7" cy="471.2" rx="4.2" ry="4.6" transform="rotate(0 836.7 471.2)" fill="#fff" stroke="#000" stroke-width="1.3"/>
<line x1="853.8" y1="452.5" x2="890" y2="463.9" stroke="#000" stroke-width="1.0"/>
<path d="M848.9 457.4 L855.4 475.3 L872.5 462.3" fill="none" stroke="#000" stroke-width="1.1" />
<line x1="824.5" y1="489.9" x2="850.5" y2="499.6" stroke="#000" stroke-width="0.9" stroke-dasharray="12 3"/>
<path d="M48.1 67.7 L125.9 4" fill="none" stroke="#2a2a2a" stroke-width="1.08" />
<path d="M55.2 64.3 L126.9 11.7" fill="none" stroke="#2a2a2a" stroke-width="0.98" stroke-dasharray="30 2" />
<path d="M62.2 65.7 L126.9 15.2" fill="none" stroke="#2a2a2a" stroke-width="0.98" stroke-dasharray="22 3" />
<path d="M77.4 69.7 L112.8 39.4" fill="none" stroke="#2a2a2a" stroke-width="0.98" stroke-dasharray="16 3" />
<path d="M119.8 32.3 L135 19.2" fill="none" stroke="#2a2a2a" stroke-width="0.98" />
<path d="M126.9 11.7 Q135.0 18.2 137.0 21.2 Q139.0 24.3 142.1 25.8 Q145.1 27.3 147.6 24.8 Q150.2 22.2 150.5 17.1 Q150.8 12.1 155.1 11.1 Q159.3 10.1 164.4 10.6 Q169.4 11.1 173.4 15.1 Q177.5 19.2 184.8 17.7 Q192.2 16.2 201.8 14.6 Q211.4 13.1 212.4 15.1 L213.5 17.2" fill="none" stroke="#2a2a2a" stroke-width="0.98" />
<path d="M48.1 67.7 L55.2 64.3 L77.4 70.7 L69.3 76.8 Z" fill="none" stroke="#2a2a2a" stroke-width="1.08" />
<path d="M48.1 67.7 L48.5 100 L49.1 135.4 L45.5 143.5 L48.5 149.5 L41.4 166.7" fill="none" stroke="#2a2a2a" stroke-width="1.08" />
<path d="M77.4 70.7 L87.5 80.9 L76.4 94 L68.3 83.9" fill="none" stroke="#2a2a2a" stroke-width="0.98" stroke-dasharray="12 2" />
<path d="M109.7 64.7 L94.6 101.1" fill="none" stroke="#2a2a2a" stroke-width="0.98" stroke-dasharray="14 3" />
<path d="M117.8 55.6 Q153.2 38.4 158.2 39.4 Q163.3 40.4 166.4 43.5 Q169.4 46.5 169.9 50.0 Q170.4 53.6 170.9 57.1 Q171.4 60.6 173.4 69.7 Q175.4 78.8 168.4 95.4 L161.3 112.0" fill="none" stroke="#2a2a2a" stroke-width="0.98" />
<path d="M126.9 60.6 L161.3 44.5" fill="none" stroke="#2a2a2a" stroke-width="0.98" />
<path d="M175.4 78.8 L190 82.9" fill="none" stroke="#2a2a2a" stroke-width="0.98" />
<path d="M124.9 66.7 Q116.8 84.9 113.8 94.0 Q110.8 103.1 109.8 107.5 L108.7 112.0" fill="none" stroke="#2a2a2a" stroke-width="0.98" />
<ellipse cx="139.1" cy="84.9" rx="17.6" ry="25.0" transform="rotate(14 139.1 84.9)" fill="none" stroke="#000" stroke-width="1.1"/>
<ellipse cx="139.4" cy="85.2" rx="15.6" ry="22.8" transform="rotate(14 139.4 85.2)" fill="none" stroke="#000" stroke-width="1.0"/>
<path d="M152.2 66.7 L153.1 68.1 L153.9 69.6 L154.6 71.3 L155.2 73.0 L155.6 74.8 L156.0 76.7 L156.2 78.7 L156.2 80.7 L156.2 82.8 L156.0 84.8 L155.7 86.9 L155.2 88.9 L154.6 90.9 L154.0 92.9 L153.2 94.8 L152.2 96.6 L151.2 98.4 L150.1 100.0 L149.0 101.5 L147.7 102.9 L146.4 104.2 L145.0 105.3 L143.6 106.3 L142.1 107.1" fill="none" stroke="#000" stroke-width="1.6" />
<path d="M166.6 53.1 L166.1 53.3 L165.6 53.5 L165.1 53.5 L164.6 53.4 L164.2 53.2 L163.7 52.9 L163.3 52.5 L163.0 52.0 L162.8 51.5 L162.7 50.9 L162.7 50.3 L162.8 49.7 L163.0 49.2 L163.2 48.7 L163.6 48.2 L164.0 47.9 L164.5 47.7 L165.0 47.5 L165.5 47.5 L166.0 47.6 L166.4 47.8 L166.9 48.1 L167.3 48.5 L167.6 49.0" fill="none" stroke="#000" stroke-width="1.0" />
<path d="M112.5 105.5 L113.0 105.3 L113.5 105.1 L114.0 105.1 L114.5 105.2 L114.9 105.4 L115.4 105.7 L115.8 106.1 L116.1 106.6 L116.3 107.1 L116.4 107.7 L116.4 108.3 L116.3 108.9 L116.1 109.4 L115.9 109.9 L115.5 110.4 L115.1 110.7 L114.6 110.9 L114.1 111.1 L113.6 111.1 L113.1 111.0 L112.7 110.8 L112.2 110.5 L111.8 110.1 L111.5 109.6" fill="none" stroke="#000" stroke-width="1.0" />
<path d="M158 65 L161 68.5 L164 65.5 L163 70" fill="none" stroke="#000" stroke-width="1.0" />
<path d="M110.0 110.0 Q113.2 115.2 121.3 114.7 Q129.4 114.2 139.7 111.2 Q150.0 108.1 157.7 104.0 L165.4 100.0" fill="none" stroke="#2a2a2a" stroke-width="0.98" stroke-dasharray="20 3" />
<path d="M121.3 126.3 Q150.0 118.2 156.0 112.1 L162.0 106.0" fill="none" stroke="#2a2a2a" stroke-width="0.98" stroke-dasharray="14 3" />
<path d="M192.2 17.2 L193.2 23.2 L206.4 30.3 L215.5 25.3" fill="none" stroke="#2a2a2a" stroke-width="0.98" />
<path d="M200.3 15.2 L202.3 21.2 L207.4 20.2" fill="none" stroke="#2a2a2a" stroke-width="0.98" />
<path d="M234.7 21.8 L238 22 L238.7 26.3 M245.8 20.2 L249 20.4 L249.8 24.3 M252.9 18.2 L261 18 L262 23.2 L254 23.6" fill="none" stroke="#000" stroke-width="1.0" />
<path d="M222.6 30.3 Q225.6 38.4 230.1 38.9 Q234.7 39.4 237.2 38.4 L239.7 37.4" fill="none" stroke="#2a2a2a" stroke-width="0.98" />
<path d="M234.7 39.4 Q228.6 43.5 227.1 48.5 Q225.6 53.6 223.1 57.1 Q220.5 60.6 218.0 62.7 Q215.5 64.7 212.9 68.8 Q210.4 72.8 208.9 76.8 Q207.4 80.9 207.9 83.9 L208.4 86.9" fill="none" stroke="#2a2a2a" stroke-width="0.98" />
<path d="M237.3 40.6 Q231.2 44.7 229.7 49.8 Q228.2 54.8 225.6 58.3 Q223.1 61.8 220.6 63.9 Q218.1 65.9 215.6 70.0 Q213.0 74.0 211.5 78.1 Q210.0 82.1 210.5 85.1 L211.0 88.1" fill="none" stroke="#2a2a2a" stroke-width="0.98" />
<path d="M234.7 40.4 Q239.7 49.5 243.2 51.2 Q246.8 53.0 250.9 53.0 L254.9 53.0" fill="none" stroke="#2a2a2a" stroke-width="0.98" />
<ellipse cx="251" cy="54" rx="2.6" ry="1.6" transform="rotate(0 251 54)" fill="#000" stroke="#000" stroke-width="1"/>
<ellipse cx="249.6" cy="59.4" rx="2.6" ry="1.6" transform="rotate(0 249.6 59.4)" fill="#000" stroke="#000" stroke-width="1"/>
<path d="M247.8 37.4 Q252.9 40.4 253.4 46.0 L253.9 51.5" fill="none" stroke="#2a2a2a" stroke-width="0.98" />
<path d="M254.9 53 L264 47.5 L273.1 51.5 L269 55.6 L283.2 56.6 L287.2 59.6" fill="none" stroke="#2a2a2a" stroke-width="0.98" />
<path d="M280.2 64.7 Q280.8 71.8 283.5 71.8 Q286.2 71.8 286.7 70.2 L287.2 68.7" fill="none" stroke="#2a2a2a" stroke-width="0.98" />
<path d="M273.1 73.8 Q274.1 79.8 279.6 80.3 Q285.2 80.9 288.2 83.9 Q291.3 86.9 290.8 91.0 Q290.3 95.0 288.2 97.0 L286.2 99.0" fill="none" stroke="#2a2a2a" stroke-width="0.98" />
<path d="M235.7 62.7 L242.8 60.2 L249.8 60.2" fill="none" stroke="#2a2a2a" stroke-width="0.98" />
<path d="M228.6 67.7 Q223.6 72.8 221.6 76.3 Q219.5 79.8 217.5 82.3 L215.5 84.9" fill="none" stroke="#2a2a2a" stroke-width="0.98" stroke-dasharray="6 3" />
<path d="M191.2 55.6 L199.3 59.6 L198.3 65.7 L192.2 65.7" fill="none" stroke="#2a2a2a" stroke-width="0.98" />
<path d="M191.2 65.7 L210.4 72.8" fill="none" stroke="#2a2a2a" stroke-width="0.98" />
<path d="M174 75.8 L208.4 86.9" fill="none" stroke="#2a2a2a" stroke-width="0.98" />
<path d="M174 75.8 L176.1 80.9 L170 93" fill="none" stroke="#2a2a2a" stroke-width="0.98" />
<path d="M180.1 64.7 L183.1 59.6" fill="none" stroke="#2a2a2a" stroke-width="0.98" />
<path d="M269 98 L278.1 91 L283.2 97 L291.3 100.1 L292.3 109.2" fill="none" stroke="#2a2a2a" stroke-width="0.98" />
<path d="M270.1 99 L291.3 105.1" fill="none" stroke="#2a2a2a" stroke-width="1.96" />
<path d="M256.9 99 L265 100.1 L322 121.3 L326 124.4 L329 136.5 L333.1 150.6 L338.1 157.7" fill="none" stroke="#2a2a2a" stroke-width="0.98" />
<path d="M221.5 110.2 L234.7 105.1 L270.4 116.3 L260.3 122.3 L223 109.6" fill="none" stroke="#2a2a2a" stroke-width="0.98" />
<path d="M265.4 120.3 Q270.4 118.3 280.0 122.3 Q289.6 126.4 289.1 128.4 Q288.6 130.4 283.6 131.9 Q278.5 133.5 270.4 130.4 Q262.3 127.4 261.3 124.8 Q260.3 122.3 265.4 120.3 Z" fill="none" stroke="#2a2a2a" stroke-width="0.98" />
<path d="M41.4 166.7 Q35.4 168.7 33.8 172.2 Q32.3 175.8 33.8 178.4 Q35.4 180.9 41.5 182.4 L47.5 183.9" fill="none" stroke="#2a2a2a" stroke-width="0.98" />
<path d="M41.4 167.7 L54.6 171.2" fill="none" stroke="#2a2a2a" stroke-width="0.98" />
<path d="M30.3 188.9 L36.4 184.9 L47.5 184.9 L48.5 191" fill="none" stroke="#2a2a2a" stroke-width="0.98" stroke-dasharray="5 3" />
<path d="M53.6 182.9 L58.6 175.8" fill="none" stroke="#2a2a2a" stroke-width="0.98" />
<path d="M53.6 186.9 L50.5 197" fill="none" stroke="#2a2a2a" stroke-width="0.98" />
<path d="M54.6 193 L70.7 198" fill="none" stroke="#2a2a2a" stroke-width="0.98" stroke-dasharray="8 3" />
<path d="M23.2 196 L12.1 202.1" fill="none" stroke="#2a2a2a" stroke-width="0.98" stroke-dasharray="5 3" />
<path d="M84.9 180.1 L85.9 179.1 L87.0 178.3 L88.2 177.8 L89.4 177.5 L90.7 177.5 L92.0 177.8 L93.2 178.4 L94.2 179.2 L95.1 180.3 L95.9 181.5 L96.3 182.8 L96.6 184.3 L96.6 185.7 L96.3 187.1 L95.8 188.5 L95.1 189.7 L94.1 190.7 L93.0 191.5 L91.8 192.0 L90.6 192.3 L89.3 192.3 L88.0 192.0 L86.8 191.4 L85.8 190.6" fill="none" stroke="#000" stroke-width="1.0" />
<path d="M64.7 162.7 L70.7 165.7 L105.1 143.5 L107.1 134.4 L116.2 125.3" fill="none" stroke="#2a2a2a" stroke-width="0.98" />
<path d="M116.2 125.3 L149.6 137.4" fill="none" stroke="#2a2a2a" stroke-width="0.98" />
<path d="M113.0 109.0 Q95.0 117.2 92.5 120.2 Q90.0 123.2 91.5 128.3 Q93.0 133.4 99.5 135.9 L106.1 138.4" fill="none" stroke="#2a2a2a" stroke-width="0.98" />
<path d="M95 117.2 L116.2 125.3" fill="none" stroke="#2a2a2a" stroke-width="0.98" />
<path d="M137.5 135.4 L139.5 142.5 L148.6 140.4 L150 146.5 L148.2 147.5 L138.1 149.5 L135.1 155.6 L125.3 151.5 L116.2 153.6 L113.2 158.6 L118.3 162.7 L99 181.9" fill="none" stroke="#2a2a2a" stroke-width="0.98" />
<path d="M88.9 195.0 Q82.9 207.2 83.4 210.8 L83.9 214.3" fill="none" stroke="#2a2a2a" stroke-width="0.98" />
<path d="M66.7 205.1 Q72.8 200.1 75.3 202.6 Q77.8 205.1 77.8 208.6 L77.8 212.0" fill="none" stroke="#2a2a2a" stroke-width="0.98" />
<path d="M12.1 202.1 Q6.1 203.1 5.0 206.6 Q4.0 210.2 6.0 214.8 Q8.1 219.3 10.6 220.8 L13.1 222.3" fill="none" stroke="#2a2a2a" stroke-width="1.08" />
<path d="M12.1 202.1 L43.5 211.2" fill="none" stroke="#2a2a2a" stroke-width="1.08" />
<path d="M13.1 222.3 L42.4 232.4" fill="none" stroke="#2a2a2a" stroke-width="1.08" />
<path d="M13.1 223.4 L20.2 248.6" fill="none" stroke="#2a2a2a" stroke-width="0.98" />
<path d="M20.2 248.6 Q17.2 252.7 17.7 256.2 Q18.2 259.7 21.2 262.8 Q24.3 265.8 26.3 266.3 L28.3 266.8" fill="none" stroke="#2a2a2a" stroke-width="1.08" />
<path d="M20.2 249.6 L66.7 264.8" fill="none" stroke="#2a2a2a" stroke-width="0.98" stroke-dasharray="10 2" />
<path d="M36.4 254.7 Q42.4 270.9 45.5 274.9 Q48.5 278.9 49.0 282.4 Q49.5 286.0 51.0 288.6 Q52.6 291.1 63.7 295.6 L74.8 300.2" fill="none" stroke="#2a2a2a" stroke-width="0.98" />
<path d="M57.6 282 L76.8 289" fill="none" stroke="#2a2a2a" stroke-width="0.98" />
<ellipse cx="80.9" cy="295.1" rx="4.4" ry="6.6" transform="rotate(-15 80.9 295.1)" fill="none" stroke="#000" stroke-width="1.0"/>
<path d="M84.9 289 L86.2 298.6 L103.4 301.4 L117.2 303.8 L124 297 L131 289.5" fill="none" stroke="#2a2a2a" stroke-width="0.98" />
<path d="M39.4 197.1 Q40.4 205.2 42.0 207.7 L43.5 210.2" fill="none" stroke="#2a2a2a" stroke-width="0.98" />
<path d="M50.5 209.2 Q53.6 216.3 53.1 221.4 L52.6 226.4" fill="none" stroke="#2a2a2a" stroke-width="0.98" />
<path d="M50.5 235.5 L46.5 244.6" fill="none" stroke="#2a2a2a" stroke-width="0.98" />
<path d="M75.8 200.1 Q68.7 205.2 67.7 208.7 Q66.7 212.2 68.2 216.2 L69.7 220.3" fill="none" stroke="#2a2a2a" stroke-width="0.98" />
<path d="M83.9 214.3 L105.1 219.3 L113.2 217.3 L121.3 213.2 L131.4 213.2 L141.5 216.3 L150.2 211.2 L172.4 212.2 L236.1 233.5" fill="none" stroke="#2a2a2a" stroke-width="0.98" />
<path d="M83.9 214.3 Q73.8 223.4 72.8 226.9 L71.8 230.4" fill="none" stroke="#2a2a2a" stroke-width="0.98" />
<path d="M105.1 219.3 L109.2 229.4" fill="none" stroke="#2a2a2a" stroke-width="0.98" />
<path d="M136.2 266.6 L133.8 266.0 L131.6 265.0 L129.4 263.8 L127.4 262.3 L125.5 260.5 L123.8 258.6 L122.3 256.4 L120.9 254.0 L119.9 251.5 L119.0 248.8 L118.4 246.1 L118.1 243.3 L118.0 240.4 L118.2 237.6 L118.6 234.8 L119.3 232.1 L120.3 229.5 L121.4 227.0 L122.8 224.7 L124.4 222.6 L126.2 220.7 L128.2 219.1 L130.3 217.7 L132.5 216.6" fill="none" stroke="#000" stroke-width="1.0" />
<path d="M152.1 232.5 L153.0 234.6 L153.6 236.8 L153.9 239.1 L154.0 241.5 L153.8 243.8 L153.4 246.1 L152.6 248.3 L151.7 250.3 L150.5 252.2 L149.2 253.9 L147.6 255.3 L145.9 256.4 L144.1 257.2 L142.2 257.8 L140.3 258.0 L138.4 257.9 L136.5 257.5 L134.6 256.7 L132.9 255.7 L131.3 254.3 L129.9 252.8 L128.6 251.0 L127.6 249.0 L126.8 246.8" fill="none" stroke="#000" stroke-width="1.0" />
<path d="M132.5 265.4 L132.0 265.2 L131.6 265.0 L131.1 264.8 L130.7 264.6 L130.3 264.3 L129.8 264.1 L129.4 263.8 L129.0 263.5 L128.6 263.2 L128.2 262.9 L127.8 262.6 L127.4 262.3 L127.0 262.0 L126.6 261.6 L126.2 261.3 L125.9 260.9 L125.5 260.5 L125.1 260.2 L124.8 259.8 L124.4 259.4 L124.1 259.0 L123.8 258.6 L123.5 258.1 L123.1 257.7" fill="none" stroke="#000" stroke-width="2.0" />
<path d="M149.5 215.0 L150.5 216.4 L151.4 218.0 L152.2 219.8 L153.0 221.7 L153.6 223.8 L154.3 226.0 L154.8 228.3 L155.2 230.7 L155.6 233.2 L155.8 235.8 L156.0 238.4 L156.0 241.0 L156.0 243.6 L155.8 246.2 L155.6 248.8 L155.2 251.3 L154.8 253.7 L154.3 256.0 L153.6 258.2 L153.0 260.3 L152.2 262.2 L151.4 264.0 L150.5 265.6 L149.5 267.0" fill="none" stroke="#000" stroke-width="1.0" />
<path d="M163.0 264.9 L161.7 266.5 L160.3 268.1 L158.8 269.5 L157.2 270.9 L155.6 272.1 L153.9 273.2 L152.1 274.1 L150.3 274.9 L148.4 275.6 L146.5 276.2 L144.6 276.6 L142.6 276.9 L140.7 277.0 L138.7 277.0 L136.7 276.8 L134.8 276.5 L132.9 276.0 L131.0 275.4 L129.1 274.7 L127.3 273.8 L125.6 272.8 L123.9 271.7 L122.3 270.4 L120.7 269.0" fill="none" stroke="#000" stroke-width="1.0" />
<path d="M64.7 244.6 Q58.6 254.7 59.1 258.2 Q59.6 261.8 63.2 262.8 Q66.7 263.8 69.8 258.2 Q72.8 252.7 71.2 248.6 L69.7 244.6" fill="none" stroke="#2a2a2a" stroke-width="0.98" />
<path d="M129.4 286 L135.4 283 L157.3 283.4" fill="none" stroke="#2a2a2a" stroke-width="0.98" />
<path d="M137.9 294.6 Q155.2 296.9 163.8 295.8 L172.4 294.6" fill="none" stroke="#2a2a2a" stroke-width="0.98" stroke-dasharray="9 4" />
<path d="M119.6 295.6 L124.4 292.6 L124 297.4 Z" fill="none" stroke="#000" stroke-width="1.0" />
<path d="M163.4 158.6 L180.5 150.9 L203.8 159 L188.6 167.7 Z" fill="none" stroke="#2a2a2a" stroke-width="0.98" />
<path d="M188 166.5 C189 161 195 158.6 203 159.4" fill="none" stroke="#000" stroke-width="1.0" />
<path d="M203.8 160 L217.6 165.4 L219 171.5 L234.1 178 L235.1 182.9 L235.1 210.2 L231.1 213.2 L214.9 210.2 L198.7 204.2 L193.7 198.1" fill="none" stroke="#2a2a2a" stroke-width="0.98" />
<path d="M163.4 158.6 L163.4 169.7 L182.6 175.8 L189.6 180.9" fill="none" stroke="#2a2a2a" stroke-width="0.98" />
<path d="M188.6 167.7 L225 181.9 L234.1 178.8" fill="none" stroke="#2a2a2a" stroke-width="0.98" />
<path d="M225 181.9 L226 205.1" fill="none" stroke="#2a2a2a" stroke-width="0.98" stroke-dasharray="5 3" />
<path d="M223.0 109.1 Q217.9 122.2 217.4 127.2 Q216.9 132.3 213.9 136.4 Q210.9 140.4 207.4 142.9 L203.8 145.5" fill="none" stroke="#2a2a2a" stroke-width="0.98" />
<path d="M203.8 146.5 L267.5 166.7" fill="none" stroke="#2a2a2a" stroke-width="0.98" />
<path d="M259.4 122.2 L261.4 126.3 L280 132.3" fill="none" stroke="#2a2a2a" stroke-width="0.98" />
<path d="M230 154.7 L267.4 166.8" fill="none" stroke="#2a2a2a" stroke-width="0.98" />
<path d="M169.4 238.5 L245.2 265.8" fill="none" stroke="#2a2a2a" stroke-width="0.98" />
<path d="M166.4 236.5 L165.4 244.6" fill="none" stroke="#2a2a2a" stroke-width="0.98" />
<path d="M186.6 276.9 L209.8 265.8" fill="none" stroke="#2a2a2a" stroke-width="0.98" />
<path d="M196.7 291.1 L229 278.9" fill="none" stroke="#2a2a2a" stroke-width="0.98" />
<path d="M218.9 284 L239.2 291.1" fill="none" stroke="#2a2a2a" stroke-width="0.98" stroke-dasharray="8 2" />
<path d="M225 281 L251.3 290.1" fill="none" stroke="#2a2a2a" stroke-width="0.98" stroke-dasharray="8 2" />
<path d="M200 249.2 L245.5 265.4" fill="none" stroke="#2a2a2a" stroke-width="0.98" />
<path d="M200 290.6 L228.3 279.5" fill="none" stroke="#2a2a2a" stroke-width="0.98" />
<path d="M219.2 285.6 L254.6 297.7" fill="none" stroke="#2a2a2a" stroke-width="0.98" stroke-dasharray="8 2" />
<path d="M322.0 121.3 Q312.9 123.4 305.8 126.4 Q298.7 129.4 293.6 132.9 Q288.6 136.5 286.1 139.6 Q283.6 142.6 283.1 146.1 Q282.6 149.6 279.1 155.2 Q275.5 160.8 271.4 165.9 Q267.4 170.9 261.9 172.9 Q256.3 174.9 253.2 179.9 Q250.2 185.0 249.2 190.1 Q248.2 195.1 245.7 198.6 Q243.2 202.1 241.7 208.2 Q240.2 214.3 238.1 218.9 Q236.1 223.4 235.6 226.9 Q235.1 230.4 237.1 234.4 Q239.2 238.5 239.7 243.6 Q240.2 248.6 242.2 252.6 Q244.2 256.7 245.8 259.4 Q247.5 262.0 246.5 266.2 Q245.5 270.4 247.0 276.5 Q248.5 282.6 252.1 288.6 Q255.6 294.7 257.1 296.7 Q258.6 298.7 261.6 295.7 Q264.7 292.7 263.7 289.6 L262.7 286.6" fill="none" stroke="#2a2a2a" stroke-width="1.08" />
<path d="M325.0 133.5 Q310.9 127.4 306.4 129.9 Q301.8 132.4 296.8 138.0 Q291.7 143.6 291.1 147.1 Q290.6 150.6 283.6 159.7 Q276.5 168.8 270.4 175.4 Q264.4 182.0 260.4 186.6 Q256.3 191.1 253.4 196.6 Q250.5 202.0 248.8 207.0 Q247.2 212.0 245.7 217.2 Q244.2 222.3 243.7 230.4 Q243.2 238.5 245.2 245.6 Q247.2 252.7 250.2 257.8 L253.3 262.8" fill="none" stroke="#2a2a2a" stroke-width="0.98" />
<path d="M291.7 150.6 Q306.8 143.6 314.9 143.1 Q323.0 142.6 326.0 145.6 L329.0 148.6" fill="none" stroke="#2a2a2a" stroke-width="0.98" />
<path d="M290.6 151.6 Q300.8 148.2 309.9 148.5 Q318.9 148.8 325.0 151.8 L331.1 154.7" fill="none" stroke="#2a2a2a" stroke-width="0.98" />
<ellipse cx="321.4" cy="126.8" rx="2.6" ry="3.2" transform="rotate(20 321.4 126.8)" fill="#fff" stroke="#000" stroke-width="1.1"/>
<ellipse cx="287.2" cy="145" rx="2.6" ry="3.2" transform="rotate(20 287.2 145)" fill="#fff" stroke="#000" stroke-width="1.1"/>
<ellipse cx="258.3" cy="177.9" rx="2.6" ry="3.2" transform="rotate(20 258.3 177.9)" fill="#fff" stroke="#000" stroke-width="1.1"/>
<ellipse cx="253.9" cy="186.6" rx="2.6" ry="3.2" transform="rotate(20 253.9 186.6)" fill="#fff" stroke="#000" stroke-width="1.1"/>
<ellipse cx="239.2" cy="228" rx="2.6" ry="3.2" transform="rotate(20 239.2 228)" fill="#fff" stroke="#000" stroke-width="1.1"/>
<ellipse cx="251.2" cy="267.3" rx="2.6" ry="3.2" transform="rotate(20 251.2 267.3)" fill="#fff" stroke="#000" stroke-width="1.1"/>
<ellipse cx="259" cy="292.8" rx="2.6" ry="3.2" transform="rotate(20 259 292.8)" fill="#fff" stroke="#000" stroke-width="1.1"/>
<path d="M321.9 153 L330 156.1 L328 161.1 L311.8 171.2 L297.7 167.2 L304.7 162.1 Z" fill="none" stroke="#2a2a2a" stroke-width="0.98" />
<path d="M299.7 172.2 L310.8 176.3 L309.8 180.3 L297.7 177.3 Z" fill="none" stroke="#2a2a2a" stroke-width="0.98" />
<path d="M297.7 172.2 Q293.6 186.4 292.1 191.4 Q290.6 196.5 291.1 199.6 L291.6 202.6" fill="none" stroke="#2a2a2a" stroke-width="0.98" />
<path d="M290.6 194.5 L303.7 197.5 L302.7 203.6 L291.6 201.5 Z" fill="none" stroke="#2a2a2a" stroke-width="0.98" />
<path d="M310.3 179.5 Q306.4 189.0 305.2 193.0 L304.0 197.0" fill="none" stroke="#2a2a2a" stroke-width="0.98" />
<path d="M292.6 205.6 Q295.6 214.7 301.2 217.8 Q306.8 220.8 308.3 223.8 L309.8 226.8" fill="none" stroke="#2a2a2a" stroke-width="0.98" />
<path d="M303.7 206.6 Q307.8 216.7 309.3 220.8 L310.8 224.8" fill="none" stroke="#2a2a2a" stroke-width="0.98" />
<path d="M302.7 222.8 L310.8 227.8 L308.8 234.9 L315.9 230.9 L323.9 232.9 L328 234.9 L324.9 245 L321.9 247 L311.8 242" fill="none" stroke="#2a2a2a" stroke-width="0.98" />
<path d="M305.8 244 L319.9 250.1 L315.9 262" fill="none" stroke="#2a2a2a" stroke-width="0.98" />
<path d="M321.9 251.1 L328 249.1 L329 255.1" fill="none" stroke="#2a2a2a" stroke-width="0.98" />
<path d="M293.6 255.1 L296 252 L298 256.6 L300.4 252.4 L302.7 250.1 L304.7 247" fill="none" stroke="#2a2a2a" stroke-width="0.98" />
<path d="M332.0 165.2 Q340.0 161.5 344.1 161.3 Q348.2 161.1 354.2 165.6 Q360.3 170.2 362.4 178.3 Q364.4 186.4 362.9 196.5 Q361.3 206.6 356.8 213.7 Q352.2 220.8 345.1 224.8 Q338.1 228.8 331.0 229.3 Q323.9 229.8 321.4 227.8 L318.9 225.8" fill="none" stroke="#2a2a2a" stroke-width="1.27" />
<path d="M332.0 166.6 Q342.0 163.4 347.5 164.2 L353.0 165.0" fill="none" stroke="#2a2a2a" stroke-width="1.96" stroke-dasharray="4 2" />
<path d="M345.2 181.3 Q351.2 189.4 350.7 196.0 Q350.2 202.6 347.2 206.6 Q344.2 210.6 337.6 211.6 L331.0 212.7" fill="none" stroke="#2a2a2a" stroke-width="0.98" />
<ellipse cx="341.1" cy="197.5" rx="7.4" ry="8.8" transform="rotate(0 341.1 197.5)" fill="#fff" stroke="#000" stroke-width="1.6"/>
<ellipse cx="342.4" cy="197.7" rx="5.6" ry="6.8" transform="rotate(0 342.4 197.7)" fill="none" stroke="#000" stroke-width="1.2"/>
<ellipse cx="346.2" cy="198.6" rx="4.0" ry="4.8" transform="rotate(0 346.2 198.6)" fill="#000" stroke="#000" stroke-width="1"/>
<ellipse cx="289.6" cy="228.8" rx="9.6" ry="10.8" transform="rotate(0 289.6 228.8)" fill="#fff" stroke="#000" stroke-width="1.8"/>
<ellipse cx="291.6" cy="229.2" rx="7.0" ry="8.2" transform="rotate(0 291.6 229.2)" fill="none" stroke="#000" stroke-width="1.4"/>
<ellipse cx="297" cy="229.8" rx="5.0" ry="5.4" transform="rotate(0 297 229.8)" fill="#111" stroke="#000" stroke-width="1"/>
<ellipse cx="298.6" cy="230" rx="2.0" ry="2.4" transform="rotate(0 298.6 230)" fill="#fff" stroke="#000" stroke-width="1"/>
<path d="M303 226 L312 229.6 M302.6 232.8 L308 235" fill="none" stroke="#000" stroke-width="1.0" />
<ellipse cx="284.8" cy="181.8" rx="3.4" ry="1.6" transform="rotate(17.0 284.8 181.8)" fill="#fff" stroke="#000" stroke-width="2.4"/>
<ellipse cx="288.8" cy="185.8" rx="3.0" ry="1.5" transform="rotate(17.0 288.8 185.8)" fill="#fff" stroke="#000" stroke-width="2.3"/>
<line x1="285.8" y1="182.8" x2="287.8" y2="186.0" stroke="#000" stroke-width="1.6"/>
<ellipse cx="279.4" cy="183.9" rx="3.4" ry="1.6" transform="rotate(12.4 279.4 183.9)" fill="#fff" stroke="#000" stroke-width="2.4"/>
<ellipse cx="283.9" cy="187.7" rx="3.0" ry="1.5" transform="rotate(12.4 283.9 187.7)" fill="#fff" stroke="#000" stroke-width="2.3"/>
<line x1="280.6" y1="184.9" x2="282.8" y2="188.0" stroke="#000" stroke-width="1.6"/>
<ellipse cx="274.1" cy="186.1" rx="3.4" ry="1.6" transform="rotate(8.1 274.1 186.1)" fill="#fff" stroke="#000" stroke-width="2.4"/>
<ellipse cx="279.0" cy="189.7" rx="3.0" ry="1.5" transform="rotate(8.1 279.0 189.7)" fill="#fff" stroke="#000" stroke-width="2.3"/>
<line x1="275.3" y1="187.0" x2="277.8" y2="190.0" stroke="#000" stroke-width="1.6"/>
<ellipse cx="269.1" cy="188.9" rx="3.4" ry="1.6" transform="rotate(6.3 269.1 188.9)" fill="#fff" stroke="#000" stroke-width="2.4"/>
<ellipse cx="274.8" cy="192.8" rx="3.0" ry="1.5" transform="rotate(6.3 274.8 192.8)" fill="#fff" stroke="#000" stroke-width="2.3"/>
<line x1="270.6" y1="189.9" x2="273.4" y2="193.0" stroke="#000" stroke-width="1.6"/>
<ellipse cx="265.1" cy="193.0" rx="3.4" ry="1.6" transform="rotate(2.2 265.1 193.0)" fill="#fff" stroke="#000" stroke-width="2.4"/>
<ellipse cx="271.1" cy="196.5" rx="3.0" ry="1.5" transform="rotate(2.2 271.1 196.5)" fill="#fff" stroke="#000" stroke-width="2.3"/>
<line x1="266.6" y1="193.9" x2="269.6" y2="196.8" stroke="#000" stroke-width="1.6"/>
<ellipse cx="261.1" cy="197.1" rx="3.4" ry="1.6" transform="rotate(-1.7 261.1 197.1)" fill="#fff" stroke="#000" stroke-width="2.4"/>
<ellipse cx="267.5" cy="200.3" rx="3.0" ry="1.5" transform="rotate(-1.7 267.5 200.3)" fill="#fff" stroke="#000" stroke-width="2.3"/>
<line x1="262.7" y1="198.0" x2="266.0" y2="200.7" stroke="#000" stroke-width="1.6"/>
<ellipse cx="257.8" cy="201.8" rx="3.4" ry="1.6" transform="rotate(-4.8 257.8 201.8)" fill="#fff" stroke="#000" stroke-width="2.4"/>
<ellipse cx="265.0" cy="204.9" rx="3.0" ry="1.5" transform="rotate(-4.8 265.0 204.9)" fill="#fff" stroke="#000" stroke-width="2.3"/>
<line x1="259.7" y1="202.6" x2="263.3" y2="205.4" stroke="#000" stroke-width="1.6"/>
<ellipse cx="255.2" cy="206.9" rx="3.4" ry="1.6" transform="rotate(-8.3 255.2 206.9)" fill="#fff" stroke="#000" stroke-width="2.4"/>
<ellipse cx="262.7" cy="209.6" rx="3.0" ry="1.5" transform="rotate(-8.3 262.7 209.6)" fill="#fff" stroke="#000" stroke-width="2.3"/>
<line x1="257.1" y1="207.6" x2="260.9" y2="210.2" stroke="#000" stroke-width="1.6"/>
<ellipse cx="252.8" cy="212.2" rx="3.4" ry="1.6" transform="rotate(-11.6 252.8 212.2)" fill="#fff" stroke="#000" stroke-width="2.4"/>
<ellipse cx="261.3" cy="214.7" rx="3.0" ry="1.5" transform="rotate(-11.6 261.3 214.7)" fill="#fff" stroke="#000" stroke-width="2.3"/>
<line x1="255.0" y1="212.8" x2="259.3" y2="215.3" stroke="#000" stroke-width="1.6"/>
<ellipse cx="251.2" cy="217.7" rx="3.4" ry="1.6" transform="rotate(-14.8 251.2 217.7)" fill="#fff" stroke="#000" stroke-width="2.4"/>
<ellipse cx="260.3" cy="219.8" rx="3.0" ry="1.5" transform="rotate(-14.8 260.3 219.8)" fill="#fff" stroke="#000" stroke-width="2.3"/>
<line x1="253.6" y1="218.2" x2="258.1" y2="220.5" stroke="#000" stroke-width="1.6"/>
<ellipse cx="250.0" cy="223.3" rx="3.4" ry="1.6" transform="rotate(-18.1 250.0 223.3)" fill="#fff" stroke="#000" stroke-width="2.4"/>
<ellipse cx="259.9" cy="225.0" rx="3.0" ry="1.5" transform="rotate(-18.1 259.9 225.0)" fill="#fff" stroke="#000" stroke-width="2.3"/>
<line x1="252.5" y1="223.7" x2="257.5" y2="225.8" stroke="#000" stroke-width="1.6"/>
<ellipse cx="249.8" cy="229.0" rx="3.4" ry="1.6" transform="rotate(-21.1 249.8 229.0)" fill="#fff" stroke="#000" stroke-width="2.4"/>
<ellipse cx="259.9" cy="230.3" rx="3.0" ry="1.5" transform="rotate(-21.1 259.9 230.3)" fill="#fff" stroke="#000" stroke-width="2.3"/>
<line x1="252.4" y1="229.4" x2="257.5" y2="231.2" stroke="#000" stroke-width="1.6"/>
<ellipse cx="249.8" cy="234.8" rx="3.4" ry="1.6" transform="rotate(-24.3 249.8 234.8)" fill="#fff" stroke="#000" stroke-width="2.4"/>
<ellipse cx="260.5" cy="235.5" rx="3.0" ry="1.5" transform="rotate(-24.3 260.5 235.5)" fill="#fff" stroke="#000" stroke-width="2.3"/>
<line x1="252.6" y1="235.0" x2="257.9" y2="236.5" stroke="#000" stroke-width="1.6"/>
<ellipse cx="251.1" cy="240.4" rx="3.4" ry="1.6" transform="rotate(-26.6 251.1 240.4)" fill="#fff" stroke="#000" stroke-width="2.4"/>
<ellipse cx="261.5" cy="240.6" rx="3.0" ry="1.5" transform="rotate(-26.6 261.5 240.6)" fill="#fff" stroke="#000" stroke-width="2.3"/>
<line x1="253.8" y1="240.5" x2="259.0" y2="241.8" stroke="#000" stroke-width="1.6"/>
<ellipse cx="252.7" cy="245.9" rx="3.4" ry="1.6" transform="rotate(-29.8 252.7 245.9)" fill="#fff" stroke="#000" stroke-width="2.4"/>
<ellipse cx="263.2" cy="245.6" rx="3.0" ry="1.5" transform="rotate(-29.8 263.2 245.6)" fill="#fff" stroke="#000" stroke-width="2.3"/>
<line x1="255.4" y1="245.8" x2="260.7" y2="246.9" stroke="#000" stroke-width="1.6"/>
<ellipse cx="255.4" cy="251.0" rx="3.4" ry="1.6" transform="rotate(-31.6 255.4 251.0)" fill="#fff" stroke="#000" stroke-width="2.4"/>
<ellipse cx="265.4" cy="250.4" rx="3.0" ry="1.5" transform="rotate(-31.6 265.4 250.4)" fill="#fff" stroke="#000" stroke-width="2.3"/>
<line x1="258.0" y1="250.8" x2="263.0" y2="251.7" stroke="#000" stroke-width="1.6"/>
<ellipse cx="258.7" cy="255.7" rx="3.4" ry="1.6" transform="rotate(-34.2 258.7 255.7)" fill="#fff" stroke="#000" stroke-width="2.4"/>
<ellipse cx="268.5" cy="254.6" rx="3.0" ry="1.5" transform="rotate(-34.2 268.5 254.6)" fill="#fff" stroke="#000" stroke-width="2.3"/>
<line x1="261.3" y1="255.4" x2="266.2" y2="256.1" stroke="#000" stroke-width="1.6"/>
<ellipse cx="263.0" cy="259.6" rx="3.4" ry="1.6" transform="rotate(-34.3 263.0 259.6)" fill="#fff" stroke="#000" stroke-width="2.4"/>
<ellipse cx="272.0" cy="258.6" rx="3.0" ry="1.5" transform="rotate(-34.3 272.0 258.6)" fill="#fff" stroke="#000" stroke-width="2.3"/>
<line x1="265.3" y1="259.3" x2="269.8" y2="260.0" stroke="#000" stroke-width="1.6"/>
<ellipse cx="262.0" cy="259.2" rx="2.2" ry="2.0" transform="rotate(0 262.0 259.2)" fill="#fff" stroke="#000" stroke-width="1.5"/>
<ellipse cx="267.2" cy="260.4" rx="2.2" ry="2.0" transform="rotate(0 267.2 260.4)" fill="#fff" stroke="#000" stroke-width="1.5"/>
<ellipse cx="272.4" cy="261.6" rx="2.2" ry="2.0" transform="rotate(0 272.4 261.6)" fill="#fff" stroke="#000" stroke-width="1.5"/>
<ellipse cx="277.6" cy="262.8" rx="2.2" ry="2.0" transform="rotate(0 277.6 262.8)" fill="#fff" stroke="#000" stroke-width="1.5"/>
<ellipse cx="282.8" cy="264.0" rx="2.2" ry="2.0" transform="rotate(0 282.8 264.0)" fill="#fff" stroke="#000" stroke-width="1.5"/>
<ellipse cx="258.6" cy="277.5" rx="6.8" ry="7.8" transform="rotate(10 258.6 277.5)" fill="#fff" stroke="#000" stroke-width="1.6"/>
<ellipse cx="259.2" cy="277.7" rx="4.2" ry="4.8" transform="rotate(10 259.2 277.7)" fill="none" stroke="#000" stroke-width="1.8"/>
<ellipse cx="259.6" cy="277.9" rx="1.8" ry="2.2" transform="rotate(10 259.6 277.9)" fill="none" stroke="#000" stroke-width="1.0"/>
<ellipse cx="280.9" cy="277.5" rx="3.6" ry="4.2" transform="rotate(0 280.9 277.5)" fill="#fff" stroke="#000" stroke-width="1.5"/>
<ellipse cx="282" cy="278.3" rx="1.6" ry="1.8" transform="rotate(0 282 278.3)" fill="#000" stroke="#000" stroke-width="1"/>
<path d="M288.9 272.5 L325.3 250.2 L329.4 254.3 L295 280.5" fill="none" stroke="#2a2a2a" stroke-width="0.98" />
<path d="M306.1 244.2 L319.3 252.2" fill="none" stroke="#2a2a2a" stroke-width="0.98" />
<path d="M310.2 236.1 L308.1 243.1" fill="none" stroke="#2a2a2a" stroke-width="0.98" />
<path d="M264.7 280.5 L286.9 288.6 L301.1 293.7" fill="none" stroke="#2a2a2a" stroke-width="0.98" />
<path d="M264.7 292.7 L284.9 289.6 L290 287.6" fill="none" stroke="#2a2a2a" stroke-width="0.98" stroke-dasharray="8 2" />
<path d="M263.4 279 L280 284" fill="none" stroke="#2a2a2a" stroke-width="0.98" />
<path d="M1059.6 30.9 L1080.7 18.7 L1079.9 14.3 L1096.1 18.2 L1092.1 32.5 L1088 30.9 L1066.9 43.5 Z" fill="#000" stroke="#000" stroke-width="1.0" />
<text x="1034" y="62.4" font-size="17.5" font-weight="bold" letter-spacing="1.6" transform="rotate(-31 1034 62.4)" style="stroke-width:0.9px">FR.</text>
</svg>
</body></html>
